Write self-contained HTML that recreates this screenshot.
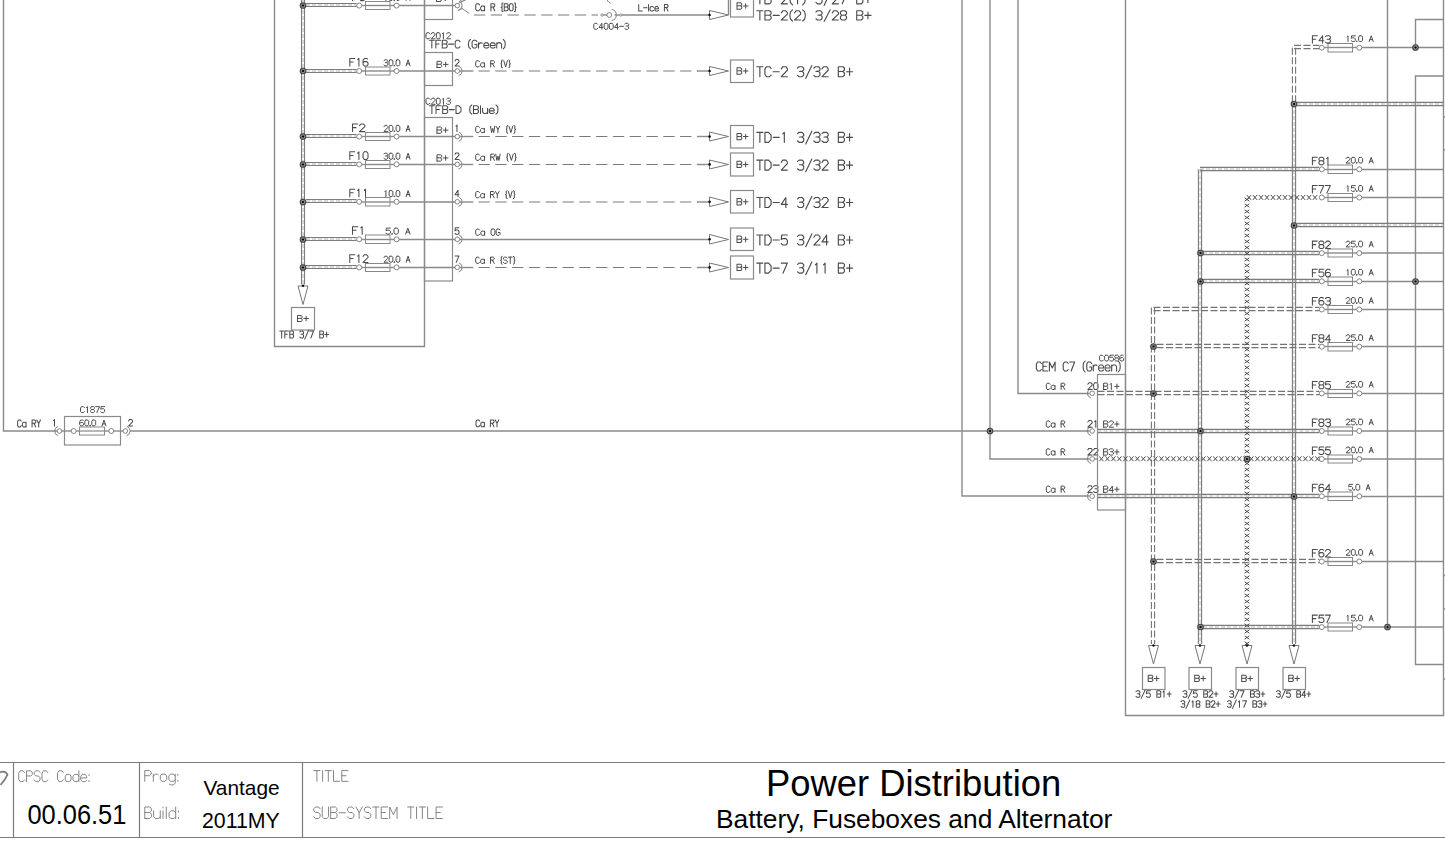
<!DOCTYPE html>
<html><head><meta charset="utf-8"><title>Power Distribution</title>
<style>html,body{margin:0;padding:0;background:#fff;overflow:hidden}svg{display:block}</style>
</head><body>
<svg width="1445" height="855" viewBox="0 0 1445 855" style="font-family:'Liberation Sans',sans-serif">
<rect width="1445" height="855" fill="#fff"/>
<polyline points="3.50,-2.00 3.50,431.00 57.00,431.00" stroke="#8a8a8a" stroke-width="1.4" fill="none"/>
<path d="M21.22 421.15L20.31 420.00L18.50 420.00L17.60 421.53L17.60 425.37L18.50 426.90L20.31 426.90L21.22 425.75M26.04 422.30L26.04 426.90M26.04 423.45L25.13 422.30L23.33 422.30L22.42 423.45L22.42 425.75L23.33 426.90L25.13 426.90L26.04 425.75M32.06 426.90L32.06 420.00L34.78 420.00L35.68 420.92L35.68 422.30L34.78 423.30L32.06 423.30M33.87 423.30L35.68 426.90M36.88 420.00L38.69 423.45L40.50 420.00M38.69 423.45L38.69 426.90" stroke="#4a4a4a" stroke-width="1.03" fill="none" stroke-linecap="round" stroke-linejoin="round"/>
<path d="M53.50 420.58L54.50 419.50L54.50 426.00" stroke="#4a4a4a" stroke-width="1.01" fill="none" stroke-linecap="round" stroke-linejoin="round"/>
<circle cx="59.50" cy="431.00" r="2.3" stroke="#777" stroke-width="0.9" fill="#fff"/>
<path d="M58.26 435.64A4.8 4.8 0 0 1 57.86 426.49" stroke="#777" stroke-width="0.9" fill="none"/>
<rect x="64.50" y="416.50" width="56.00" height="28.50" stroke="#8a8a8a" stroke-width="1.2" fill="none"/>
<line x1="61.80" y1="431.00" x2="71.20" y2="431.00" stroke="#8a8a8a" stroke-width="1.4" />
<circle cx="73.70" cy="431.00" r="2.5" stroke="#777" stroke-width="0.9" fill="#fff"/>
<line x1="76.20" y1="431.00" x2="79.70" y2="431.00" stroke="#8a8a8a" stroke-width="1.4" />
<rect x="79.50" y="427.00" width="25.00" height="8.00" stroke="#888" stroke-width="1.0" fill="none"/>
<line x1="79.70" y1="431.00" x2="104.60" y2="431.00" stroke="#999" stroke-width="1.4" />
<line x1="104.60" y1="431.00" x2="108.80" y2="431.00" stroke="#8a8a8a" stroke-width="1.4" />
<circle cx="111.30" cy="431.00" r="2.5" stroke="#777" stroke-width="0.9" fill="#fff"/>
<line x1="113.80" y1="431.00" x2="123.00" y2="431.00" stroke="#8a8a8a" stroke-width="1.4" />
<circle cx="125.30" cy="431.00" r="2.3" stroke="#777" stroke-width="0.9" fill="#fff"/>
<path d="M126.94 426.49A4.8 4.8 0 0 1 126.54 435.64" stroke="#777" stroke-width="0.9" fill="none"/>
<path d="M84.31 407.60L83.35 406.60L81.45 406.60L80.50 407.93L80.50 411.27L81.45 412.60L83.35 412.60L84.31 411.60M86.52 407.60L87.48 406.60L87.48 412.60M91.60 406.60L93.50 406.60L94.45 407.40L94.45 408.60L93.50 409.47L91.60 409.47L90.65 408.60L90.65 407.40L91.60 406.60M91.60 409.47L90.65 410.40L90.65 411.73L91.60 412.60L93.50 412.60L94.45 411.73L94.45 410.40L93.50 409.47M95.72 406.60L99.53 406.60L96.86 412.60M104.60 406.60L101.11 406.60L100.79 409.27L101.75 408.73L103.65 408.73L104.60 409.80L104.60 411.60L103.65 412.60L101.75 412.60L100.79 411.80" stroke="#4a4a4a" stroke-width="0.99" fill="none" stroke-linecap="round" stroke-linejoin="round"/>
<path d="M83.28 420.52L82.45 420.00L80.85 420.00L79.70 421.42L79.70 424.51L80.66 425.80L82.58 425.80L83.53 424.83L83.53 423.48L82.58 422.45L80.66 422.45L79.70 423.48M85.77 420.00L87.69 420.00L88.65 421.29L88.65 424.51L87.69 425.80L85.77 425.80L84.81 424.51L84.81 421.29L85.77 420.00M89.92 425.80L90.50 425.80L90.50 425.28L89.92 425.28L89.92 425.80M92.80 420.00L94.72 420.00L95.68 421.29L95.68 424.51L94.72 425.80L92.80 425.80L91.84 424.51L91.84 421.29L92.80 420.00M102.07 425.80L103.98 420.00L105.90 425.80M102.70 423.87L105.26 423.87" stroke="#4a4a4a" stroke-width="0.98" fill="none" stroke-linecap="round" stroke-linejoin="round"/>
<path d="M128.50 420.94L129.50 419.50L131.50 419.50L132.50 420.73L132.50 421.81L128.50 426.00L132.50 426.00" stroke="#4a4a4a" stroke-width="1.01" fill="none" stroke-linecap="round" stroke-linejoin="round"/>
<line x1="130.00" y1="431.00" x2="1089.50" y2="431.00" stroke="#8a8a8a" stroke-width="1.4" />
<path d="M479.60 421.05L478.70 419.90L476.90 419.90L476.00 421.43L476.00 425.27L476.90 426.80L478.70 426.80L479.60 425.65M484.40 422.20L484.40 426.80M484.40 423.35L483.50 422.20L481.70 422.20L480.80 423.35L480.80 425.65L481.70 426.80L483.50 426.80L484.40 425.65M490.40 426.80L490.40 419.90L493.10 419.90L494.00 420.82L494.00 422.20L493.10 423.20L490.40 423.20M492.20 423.20L494.00 426.80M495.20 419.90L497.00 423.35L498.80 419.90M497.00 423.35L497.00 426.80" stroke="#4a4a4a" stroke-width="1.03" fill="none" stroke-linecap="round" stroke-linejoin="round"/>
<polyline points="274.50,-2.00 274.50,346.50 424.50,346.50 424.50,-2.00" stroke="#8a8a8a" stroke-width="1.4" fill="none"/>
<path d="M301.50 -2.00V284.50M304.50 -2.00V284.50" stroke="#7c7c7c" stroke-width="1.1" fill="none"/>
<path d="M303.00 -2.00V284.50" stroke="#b4b4b4" stroke-width="1" stroke-dasharray="4 2" fill="none"/>
<path d="M306.00 3.50H356.60M306.00 6.50H356.60" stroke="#7c7c7c" stroke-width="1.1" fill="none"/>
<path d="M306.00 5.00H356.60" stroke="#b4b4b4" stroke-width="1" stroke-dasharray="4 2" fill="none"/>
<circle cx="303.00" cy="5.50" r="2.8" stroke="#444" stroke-width="1.1" fill="#888"/>
<circle cx="303.00" cy="5.50" r="1.1" stroke="#000" stroke-width="0" fill="#000"/>
<circle cx="359.20" cy="5.60" r="2.5" stroke="#777" stroke-width="0.9" fill="#fff"/>
<line x1="361.70" y1="5.50" x2="365.50" y2="5.50" stroke="#8a8a8a" stroke-width="1.4" />
<rect x="365.50" y="1.50" width="24.50" height="8.00" stroke="#888" stroke-width="1.0" fill="none"/>
<line x1="365.50" y1="5.50" x2="389.80" y2="5.50" stroke="#8a8a8a" stroke-width="1.4" />
<line x1="389.80" y1="5.50" x2="394.10" y2="5.50" stroke="#8a8a8a" stroke-width="1.4" />
<circle cx="396.60" cy="5.60" r="2.5" stroke="#777" stroke-width="0.9" fill="#fff"/>
<line x1="399.10" y1="5.50" x2="455.00" y2="5.50" stroke="#8a8a8a" stroke-width="1.4" />
<path d="M357.77 -7.00L352.50 -7.00L352.50 0.60M352.50 -3.37L356.01 -3.37M364.45 -6.32L363.31 -7.00L361.11 -7.00L359.53 -5.14L359.53 -1.09L360.85 0.60L363.48 0.60L364.80 -0.67L364.80 -2.44L363.48 -3.79L360.85 -3.79L359.53 -2.44" stroke="#4a4a4a" stroke-width="1.05" fill="none" stroke-linecap="round" stroke-linejoin="round"/>
<path d="M384.95 -4.60L385.90 -5.60L385.90 0.40M392.88 -5.60L389.39 -5.60L389.07 -2.93L390.02 -3.47L391.93 -3.47L392.88 -2.40L392.88 -0.60L391.93 0.40L390.02 0.40L389.07 -0.40M394.15 0.40L394.72 0.40L394.72 -0.13L394.15 -0.13L394.15 0.40M397.00 -5.60L398.90 -5.60L399.85 -4.27L399.85 -0.93L398.90 0.40L397.00 0.40L396.05 -0.93L396.05 -4.27L397.00 -5.60M406.20 0.40L408.10 -5.60L410.00 0.40M406.83 -1.60L409.37 -1.60" stroke="#4a4a4a" stroke-width="0.99" fill="none" stroke-linecap="round" stroke-linejoin="round"/>
<path d="M306.00 69.50H356.60M306.00 72.50H356.60" stroke="#7c7c7c" stroke-width="1.1" fill="none"/>
<path d="M306.00 71.00H356.60" stroke="#b4b4b4" stroke-width="1" stroke-dasharray="4 2" fill="none"/>
<circle cx="303.00" cy="71.00" r="2.8" stroke="#444" stroke-width="1.1" fill="#888"/>
<circle cx="303.00" cy="71.00" r="1.1" stroke="#000" stroke-width="0" fill="#000"/>
<circle cx="359.20" cy="71.00" r="2.5" stroke="#777" stroke-width="0.9" fill="#fff"/>
<line x1="361.70" y1="71.00" x2="365.50" y2="71.00" stroke="#8a8a8a" stroke-width="1.4" />
<rect x="365.50" y="67.00" width="24.50" height="8.00" stroke="#888" stroke-width="1.0" fill="none"/>
<line x1="365.50" y1="71.00" x2="389.80" y2="71.00" stroke="#8a8a8a" stroke-width="1.4" />
<line x1="389.80" y1="71.00" x2="394.10" y2="71.00" stroke="#8a8a8a" stroke-width="1.4" />
<circle cx="396.60" cy="71.00" r="2.5" stroke="#777" stroke-width="0.9" fill="#fff"/>
<line x1="399.10" y1="71.00" x2="455.00" y2="71.00" stroke="#8a8a8a" stroke-width="1.4" />
<path d="M354.76 58.40L349.80 58.40L349.80 66.00M349.80 62.03L353.11 62.03M357.66 59.67L358.90 58.40L358.90 66.00M367.67 59.08L366.59 58.40L364.53 58.40L363.04 60.26L363.04 64.31L364.28 66.00L366.76 66.00L368.00 64.73L368.00 62.96L366.76 61.61L364.28 61.61L363.04 62.96" stroke="#4a4a4a" stroke-width="1.05" fill="none" stroke-linecap="round" stroke-linejoin="round"/>
<path d="M384.00 60.60L384.95 59.80L386.85 59.80L387.80 60.73L387.80 61.80L386.85 62.60L385.27 62.60M386.85 62.60L387.80 63.47L387.80 64.87L386.85 65.80L384.95 65.80L384.00 65.00M390.02 59.80L391.93 59.80L392.88 61.13L392.88 64.47L391.93 65.80L390.02 65.80L389.07 64.47L389.07 61.13L390.02 59.80M394.15 65.80L394.72 65.80L394.72 65.27L394.15 65.27L394.15 65.80M397.00 59.80L398.90 59.80L399.85 61.13L399.85 64.47L398.90 65.80L397.00 65.80L396.05 64.47L396.05 61.13L397.00 59.80M406.20 65.80L408.10 59.80L410.00 65.80M406.83 63.80L409.37 63.80" stroke="#4a4a4a" stroke-width="0.99" fill="none" stroke-linecap="round" stroke-linejoin="round"/>
<path d="M306.00 134.50H356.60M306.00 137.50H356.60" stroke="#7c7c7c" stroke-width="1.1" fill="none"/>
<path d="M306.00 136.00H356.60" stroke="#b4b4b4" stroke-width="1" stroke-dasharray="4 2" fill="none"/>
<circle cx="303.00" cy="136.50" r="2.8" stroke="#444" stroke-width="1.1" fill="#888"/>
<circle cx="303.00" cy="136.50" r="1.1" stroke="#000" stroke-width="0" fill="#000"/>
<circle cx="359.20" cy="136.60" r="2.5" stroke="#777" stroke-width="0.9" fill="#fff"/>
<line x1="361.70" y1="136.50" x2="365.50" y2="136.50" stroke="#8a8a8a" stroke-width="1.4" />
<rect x="365.50" y="132.50" width="24.50" height="8.00" stroke="#888" stroke-width="1.0" fill="none"/>
<line x1="365.50" y1="136.50" x2="389.80" y2="136.50" stroke="#8a8a8a" stroke-width="1.4" />
<line x1="389.80" y1="136.50" x2="394.10" y2="136.50" stroke="#8a8a8a" stroke-width="1.4" />
<circle cx="396.60" cy="136.60" r="2.5" stroke="#777" stroke-width="0.9" fill="#fff"/>
<line x1="399.10" y1="136.50" x2="455.00" y2="136.50" stroke="#8a8a8a" stroke-width="1.4" />
<path d="M357.77 124.00L352.50 124.00L352.50 131.60M352.50 127.63L356.01 127.63M359.53 125.69L360.85 124.00L363.48 124.00L364.80 125.44L364.80 126.70L359.53 131.60L364.80 131.60" stroke="#4a4a4a" stroke-width="1.05" fill="none" stroke-linecap="round" stroke-linejoin="round"/>
<path d="M384.00 126.73L384.95 125.40L386.85 125.40L387.80 126.53L387.80 127.53L384.00 131.40L387.80 131.40M390.02 125.40L391.93 125.40L392.88 126.73L392.88 130.07L391.93 131.40L390.02 131.40L389.07 130.07L389.07 126.73L390.02 125.40M394.15 131.40L394.72 131.40L394.72 130.87L394.15 130.87L394.15 131.40M397.00 125.40L398.90 125.40L399.85 126.73L399.85 130.07L398.90 131.40L397.00 131.40L396.05 130.07L396.05 126.73L397.00 125.40M406.20 131.40L408.10 125.40L410.00 131.40M406.83 129.40L409.37 129.40" stroke="#4a4a4a" stroke-width="0.99" fill="none" stroke-linecap="round" stroke-linejoin="round"/>
<path d="M306.00 162.50H356.60M306.00 165.50H356.60" stroke="#7c7c7c" stroke-width="1.1" fill="none"/>
<path d="M306.00 164.00H356.60" stroke="#b4b4b4" stroke-width="1" stroke-dasharray="4 2" fill="none"/>
<circle cx="303.00" cy="164.50" r="2.8" stroke="#444" stroke-width="1.1" fill="#888"/>
<circle cx="303.00" cy="164.50" r="1.1" stroke="#000" stroke-width="0" fill="#000"/>
<circle cx="359.20" cy="164.40" r="2.5" stroke="#777" stroke-width="0.9" fill="#fff"/>
<line x1="361.70" y1="164.50" x2="365.50" y2="164.50" stroke="#8a8a8a" stroke-width="1.4" />
<rect x="365.50" y="160.50" width="24.50" height="8.00" stroke="#888" stroke-width="1.0" fill="none"/>
<line x1="365.50" y1="164.50" x2="389.80" y2="164.50" stroke="#8a8a8a" stroke-width="1.4" />
<line x1="389.80" y1="164.50" x2="394.10" y2="164.50" stroke="#8a8a8a" stroke-width="1.4" />
<circle cx="396.60" cy="164.40" r="2.5" stroke="#777" stroke-width="0.9" fill="#fff"/>
<line x1="399.10" y1="164.50" x2="455.00" y2="164.50" stroke="#8a8a8a" stroke-width="1.4" />
<path d="M354.76 151.80L349.80 151.80L349.80 159.40M349.80 155.43L353.11 155.43M357.66 153.07L358.90 151.80L358.90 159.40M364.28 151.80L366.76 151.80L368.00 153.49L368.00 157.71L366.76 159.40L364.28 159.40L363.04 157.71L363.04 153.49L364.28 151.80" stroke="#4a4a4a" stroke-width="1.05" fill="none" stroke-linecap="round" stroke-linejoin="round"/>
<path d="M384.00 154.00L384.95 153.20L386.85 153.20L387.80 154.13L387.80 155.20L386.85 156.00L385.27 156.00M386.85 156.00L387.80 156.87L387.80 158.27L386.85 159.20L384.95 159.20L384.00 158.40M390.02 153.20L391.93 153.20L392.88 154.53L392.88 157.87L391.93 159.20L390.02 159.20L389.07 157.87L389.07 154.53L390.02 153.20M394.15 159.20L394.72 159.20L394.72 158.67L394.15 158.67L394.15 159.20M397.00 153.20L398.90 153.20L399.85 154.53L399.85 157.87L398.90 159.20L397.00 159.20L396.05 157.87L396.05 154.53L397.00 153.20M406.20 159.20L408.10 153.20L410.00 159.20M406.83 157.20L409.37 157.20" stroke="#4a4a4a" stroke-width="0.99" fill="none" stroke-linecap="round" stroke-linejoin="round"/>
<path d="M306.00 199.50H356.60M306.00 202.50H356.60" stroke="#7c7c7c" stroke-width="1.1" fill="none"/>
<path d="M306.00 201.00H356.60" stroke="#b4b4b4" stroke-width="1" stroke-dasharray="4 2" fill="none"/>
<circle cx="303.00" cy="202.00" r="2.8" stroke="#444" stroke-width="1.1" fill="#888"/>
<circle cx="303.00" cy="202.00" r="1.1" stroke="#000" stroke-width="0" fill="#000"/>
<circle cx="359.20" cy="201.80" r="2.5" stroke="#777" stroke-width="0.9" fill="#fff"/>
<line x1="361.70" y1="202.00" x2="365.50" y2="202.00" stroke="#8a8a8a" stroke-width="1.4" />
<rect x="365.50" y="197.50" width="24.50" height="8.50" stroke="#888" stroke-width="1.0" fill="none"/>
<line x1="365.50" y1="202.00" x2="389.80" y2="202.00" stroke="#8a8a8a" stroke-width="1.4" />
<line x1="389.80" y1="202.00" x2="394.10" y2="202.00" stroke="#8a8a8a" stroke-width="1.4" />
<circle cx="396.60" cy="201.80" r="2.5" stroke="#777" stroke-width="0.9" fill="#fff"/>
<line x1="399.10" y1="202.00" x2="455.00" y2="202.00" stroke="#8a8a8a" stroke-width="1.4" />
<path d="M354.76 189.20L349.80 189.20L349.80 196.80M349.80 192.83L353.11 192.83M357.66 190.47L358.90 189.20L358.90 196.80M364.28 190.47L365.52 189.20L365.52 196.80" stroke="#4a4a4a" stroke-width="1.05" fill="none" stroke-linecap="round" stroke-linejoin="round"/>
<path d="M384.95 191.60L385.90 190.60L385.90 196.60M390.02 190.60L391.93 190.60L392.88 191.93L392.88 195.27L391.93 196.60L390.02 196.60L389.07 195.27L389.07 191.93L390.02 190.60M394.15 196.60L394.72 196.60L394.72 196.07L394.15 196.07L394.15 196.60M397.00 190.60L398.90 190.60L399.85 191.93L399.85 195.27L398.90 196.60L397.00 196.60L396.05 195.27L396.05 191.93L397.00 190.60M406.20 196.60L408.10 190.60L410.00 196.60M406.83 194.60L409.37 194.60" stroke="#4a4a4a" stroke-width="0.99" fill="none" stroke-linecap="round" stroke-linejoin="round"/>
<path d="M306.00 237.50H356.60M306.00 240.50H356.60" stroke="#7c7c7c" stroke-width="1.1" fill="none"/>
<path d="M306.00 239.00H356.60" stroke="#b4b4b4" stroke-width="1" stroke-dasharray="4 2" fill="none"/>
<circle cx="303.00" cy="239.50" r="2.8" stroke="#444" stroke-width="1.1" fill="#888"/>
<circle cx="303.00" cy="239.50" r="1.1" stroke="#000" stroke-width="0" fill="#000"/>
<circle cx="359.20" cy="239.30" r="2.5" stroke="#777" stroke-width="0.9" fill="#fff"/>
<line x1="361.70" y1="239.50" x2="365.50" y2="239.50" stroke="#8a8a8a" stroke-width="1.4" />
<rect x="365.50" y="235.00" width="24.50" height="8.50" stroke="#888" stroke-width="1.0" fill="none"/>
<line x1="365.50" y1="239.50" x2="389.80" y2="239.50" stroke="#8a8a8a" stroke-width="1.4" />
<line x1="389.80" y1="239.50" x2="394.10" y2="239.50" stroke="#8a8a8a" stroke-width="1.4" />
<circle cx="396.60" cy="239.30" r="2.5" stroke="#777" stroke-width="0.9" fill="#fff"/>
<line x1="399.10" y1="239.50" x2="455.00" y2="239.50" stroke="#8a8a8a" stroke-width="1.4" />
<path d="M357.77 226.70L352.50 226.70L352.50 234.30M352.50 230.33L356.01 230.33M360.85 227.97L362.16 226.70L362.16 234.30" stroke="#4a4a4a" stroke-width="1.05" fill="none" stroke-linecap="round" stroke-linejoin="round"/>
<path d="M390.36 228.10L386.36 228.10L386.00 230.77L387.09 230.23L389.27 230.23L390.36 231.30L390.36 233.10L389.27 234.10L387.09 234.10L386.00 233.30M391.82 234.10L392.47 234.10L392.47 233.57L391.82 233.57L391.82 234.10M395.09 228.10L397.27 228.10L398.36 229.43L398.36 232.77L397.27 234.10L395.09 234.10L394.00 232.77L394.00 229.43L395.09 228.10M405.64 234.10L407.82 228.10L410.00 234.10M406.36 232.10L409.27 232.10" stroke="#4a4a4a" stroke-width="0.99" fill="none" stroke-linecap="round" stroke-linejoin="round"/>
<path d="M306.00 265.50H356.60M306.00 268.50H356.60" stroke="#7c7c7c" stroke-width="1.1" fill="none"/>
<path d="M306.00 267.00H356.60" stroke="#b4b4b4" stroke-width="1" stroke-dasharray="4 2" fill="none"/>
<circle cx="303.00" cy="267.50" r="2.8" stroke="#444" stroke-width="1.1" fill="#888"/>
<circle cx="303.00" cy="267.50" r="1.1" stroke="#000" stroke-width="0" fill="#000"/>
<circle cx="359.20" cy="267.40" r="2.5" stroke="#777" stroke-width="0.9" fill="#fff"/>
<line x1="361.70" y1="267.50" x2="365.50" y2="267.50" stroke="#8a8a8a" stroke-width="1.4" />
<rect x="365.50" y="263.50" width="24.50" height="8.00" stroke="#888" stroke-width="1.0" fill="none"/>
<line x1="365.50" y1="267.50" x2="389.80" y2="267.50" stroke="#8a8a8a" stroke-width="1.4" />
<line x1="389.80" y1="267.50" x2="394.10" y2="267.50" stroke="#8a8a8a" stroke-width="1.4" />
<circle cx="396.60" cy="267.40" r="2.5" stroke="#777" stroke-width="0.9" fill="#fff"/>
<line x1="399.10" y1="267.50" x2="455.00" y2="267.50" stroke="#8a8a8a" stroke-width="1.4" />
<path d="M354.76 254.80L349.80 254.80L349.80 262.40M349.80 258.43L353.11 258.43M357.66 256.07L358.90 254.80L358.90 262.40M363.04 256.49L364.28 254.80L366.76 254.80L368.00 256.24L368.00 257.50L363.04 262.40L368.00 262.40" stroke="#4a4a4a" stroke-width="1.05" fill="none" stroke-linecap="round" stroke-linejoin="round"/>
<path d="M384.00 257.53L384.95 256.20L386.85 256.20L387.80 257.33L387.80 258.33L384.00 262.20L387.80 262.20M390.02 256.20L391.93 256.20L392.88 257.53L392.88 260.87L391.93 262.20L390.02 262.20L389.07 260.87L389.07 257.53L390.02 256.20M394.15 262.20L394.72 262.20L394.72 261.67L394.15 261.67L394.15 262.20M397.00 256.20L398.90 256.20L399.85 257.53L399.85 260.87L398.90 262.20L397.00 262.20L396.05 260.87L396.05 257.53L397.00 256.20M406.20 262.20L408.10 256.20L410.00 262.20M406.83 260.20L409.37 260.20" stroke="#4a4a4a" stroke-width="0.99" fill="none" stroke-linecap="round" stroke-linejoin="round"/>
<polyline points="298.00,286.00 303.00,304.50 308.00,286.00 298.00,286.00" stroke="#777" stroke-width="1.0" fill="#fff"/>
<circle cx="303.00" cy="285.80" r="1.2" stroke="#000" stroke-width="0" fill="#111"/>
<rect x="291.50" y="307.50" width="23.00" height="22.50" stroke="#8a8a8a" stroke-width="1.2" fill="none"/>
<path d="M297.50 321.50L297.50 315.50L301.04 315.50L302.21 316.30L302.21 317.50L301.04 318.37L297.50 318.37M301.04 318.37L302.21 319.30L302.21 320.63L301.04 321.50L297.50 321.50M306.14 320.70L306.14 316.30M303.79 318.50L308.50 318.50" stroke="#4a4a4a" stroke-width="0.99" fill="none" stroke-linecap="round" stroke-linejoin="round"/>
<path d="M279.80 331.00L283.55 331.00M281.67 331.00L281.67 338.00M288.54 331.00L284.79 331.00L284.79 338.00M284.79 334.34L287.29 334.34M289.79 338.00L289.79 331.00L292.60 331.00L293.54 331.93L293.54 333.33L292.60 334.34L289.79 334.34M292.60 334.34L293.54 335.43L293.54 336.99L292.60 338.00L289.79 338.00M299.78 331.93L300.72 331.00L302.59 331.00L303.53 332.09L303.53 333.33L302.59 334.27L301.03 334.27M302.59 334.27L303.53 335.28L303.53 336.91L302.59 338.00L300.72 338.00L299.78 337.07M304.77 339.17L308.52 330.22M309.77 331.00L313.52 331.00L310.89 338.00M319.76 338.00L319.76 331.00L322.57 331.00L323.51 331.93L323.51 333.33L322.57 334.34L319.76 334.34M322.57 334.34L323.51 335.43L323.51 336.99L322.57 338.00L319.76 338.00M326.63 337.07L326.63 331.93M324.75 334.50L328.50 334.50" stroke="#4a4a4a" stroke-width="1.03" fill="none" stroke-linecap="round" stroke-linejoin="round"/>
<rect x="424.50" y="-6.00" width="28.00" height="25.50" stroke="#8a8a8a" stroke-width="1.2" fill="none"/>
<path d="M436.50 1.50L436.50 -5.00L440.04 -5.00L441.21 -4.13L441.21 -2.83L440.04 -1.89L436.50 -1.89M440.04 -1.89L441.21 -0.88L441.21 0.56L440.04 1.50L436.50 1.50M445.14 0.63L445.14 -4.13M442.79 -1.75L447.50 -1.75" stroke="#4a4a4a" stroke-width="1.01" fill="none" stroke-linecap="round" stroke-linejoin="round"/>
<rect x="424.50" y="52.50" width="28.00" height="33.00" stroke="#8a8a8a" stroke-width="1.2" fill="none"/>
<path d="M437.00 67.50L437.00 61.30L440.54 61.30L441.71 62.13L441.71 63.37L440.54 64.26L437.00 64.26M440.54 64.26L441.71 65.23L441.71 66.60L440.54 67.50L437.00 67.50M445.64 66.67L445.64 62.13M443.29 64.40L448.00 64.40" stroke="#4a4a4a" stroke-width="1.00" fill="none" stroke-linecap="round" stroke-linejoin="round"/>
<rect x="424.50" y="117.50" width="28.00" height="163.50" stroke="#8a8a8a" stroke-width="1.2" fill="none"/>
<path d="M437.00 133.30L437.00 127.00L440.54 127.00L441.71 127.84L441.71 129.10L440.54 130.01L437.00 130.01M440.54 130.01L441.71 130.99L441.71 132.39L440.54 133.30L437.00 133.30M445.64 132.46L445.64 127.84M443.29 130.15L448.00 130.15" stroke="#4a4a4a" stroke-width="1.00" fill="none" stroke-linecap="round" stroke-linejoin="round"/>
<path d="M437.00 161.10L437.00 154.80L440.54 154.80L441.71 155.64L441.71 156.90L440.54 157.81L437.00 157.81M440.54 157.81L441.71 158.79L441.71 160.19L440.54 161.10L437.00 161.10M445.64 160.26L445.64 155.64M443.29 157.95L448.00 157.95" stroke="#4a4a4a" stroke-width="1.00" fill="none" stroke-linecap="round" stroke-linejoin="round"/>
<path d="M429.87 33.72L428.90 32.70L426.97 32.70L426.00 34.06L426.00 37.44L426.97 38.80L428.90 38.80L429.87 37.78M431.16 34.06L432.12 32.70L434.06 32.70L435.03 33.85L435.03 34.87L431.16 38.80L435.03 38.80M437.28 32.70L439.22 32.70L440.18 34.06L440.18 37.44L439.22 38.80L437.28 38.80L436.32 37.44L436.32 34.06L437.28 32.70M442.44 33.72L443.41 32.70L443.41 38.80M446.63 34.06L447.60 32.70L449.53 32.70L450.50 33.85L450.50 34.87L446.63 38.80L450.50 38.80" stroke="#4a4a4a" stroke-width="0.99" fill="none" stroke-linecap="round" stroke-linejoin="round"/>
<path d="M429.40 40.30L434.23 40.30M431.82 40.30L431.82 48.00M440.68 40.30L435.84 40.30L435.84 48.00M435.84 43.98L439.07 43.98M442.29 48.00L442.29 40.30L445.91 40.30L447.12 41.33L447.12 42.87L445.91 43.98L442.29 43.98M445.91 43.98L447.12 45.18L447.12 46.89L445.91 48.00L442.29 48.00M448.73 44.15L453.56 44.15M460.01 41.58L458.80 40.30L456.38 40.30L455.18 42.01L455.18 46.29L456.38 48.00L458.80 48.00L460.01 46.72M470.48 39.44L468.87 41.16L468.39 44.15L468.87 47.14L470.48 48.86M476.92 41.58L475.72 40.30L473.30 40.30L472.09 42.01L472.09 46.29L473.30 48.00L475.72 48.00L476.92 46.72L476.92 44.58L474.91 44.58M478.54 42.87L478.54 48.00M478.54 44.58L479.99 42.87L481.60 42.87L482.24 43.29M483.85 45.43L488.68 45.43L488.68 44.15L487.48 42.87L485.06 42.87L483.85 44.15L483.85 46.72L485.06 48.00L487.48 48.00L488.68 47.14M490.30 45.43L495.13 45.43L495.13 44.15L493.92 42.87L491.50 42.87L490.30 44.15L490.30 46.72L491.50 48.00L493.92 48.00L495.13 47.14M496.74 42.87L496.74 48.00M496.74 44.15L497.95 42.87L500.36 42.87L501.57 44.15L501.57 48.00M503.18 39.44L504.79 41.16L505.28 44.15L504.79 47.14L503.18 48.86" stroke="#4a4a4a" stroke-width="1.06" fill="none" stroke-linecap="round" stroke-linejoin="round"/>
<path d="M429.87 99.22L428.90 98.20L426.97 98.20L426.00 99.56L426.00 102.94L426.97 104.30L428.90 104.30L429.87 103.28M431.16 99.56L432.12 98.20L434.06 98.20L435.03 99.35L435.03 100.37L431.16 104.30L435.03 104.30M437.28 98.20L439.22 98.20L440.18 99.56L440.18 102.94L439.22 104.30L437.28 104.30L436.32 102.94L436.32 99.56L437.28 98.20M442.44 99.22L443.41 98.20L443.41 104.30M446.63 99.01L447.60 98.20L449.53 98.20L450.50 99.15L450.50 100.23L449.53 101.05L447.92 101.05M449.53 101.05L450.50 101.93L450.50 103.35L449.53 104.30L447.60 104.30L446.63 103.49" stroke="#4a4a4a" stroke-width="0.99" fill="none" stroke-linecap="round" stroke-linejoin="round"/>
<path d="M429.40 105.80L434.39 105.80M431.89 105.80L431.89 113.40M441.04 105.80L436.05 105.80L436.05 113.40M436.05 109.43L439.38 109.43M442.70 113.40L442.70 105.80L446.44 105.80L447.69 106.81L447.69 108.33L446.44 109.43L442.70 109.43M446.44 109.43L447.69 110.61L447.69 112.30L446.44 113.40L442.70 113.40M449.35 109.60L454.34 109.60M456.00 113.40L456.00 105.80L458.91 105.80L460.99 107.91L460.99 111.29L458.91 113.40L456.00 113.40M471.80 104.96L470.13 106.64L469.64 109.60L470.13 112.56L471.80 114.24M473.46 113.40L473.46 105.80L477.20 105.80L478.45 106.81L478.45 108.33L477.20 109.43L473.46 109.43M477.20 109.43L478.45 110.61L478.45 112.30L477.20 113.40L473.46 113.40M480.53 105.80L480.53 113.40M482.60 108.33L482.60 112.13L483.85 113.40L486.35 113.40L487.59 112.13M487.59 108.33L487.59 113.40M489.26 110.87L494.24 110.87L494.24 109.60L493.00 108.33L490.50 108.33L489.26 109.60L489.26 112.13L490.50 113.40L493.00 113.40L494.24 112.56M495.91 104.96L497.57 106.64L498.07 109.60L497.57 112.56L495.91 114.24" stroke="#4a4a4a" stroke-width="1.05" fill="none" stroke-linecap="round" stroke-linejoin="round"/>
<circle cx="457.30" cy="5.60" r="2.3" stroke="#777" stroke-width="0.9" fill="#fff"/>
<path d="M458.94 1.09A4.8 4.8 0 0 1 458.54 10.24" stroke="#777" stroke-width="0.9" fill="none"/>
<path d="M479.51 4.88L478.55 3.70L476.65 3.70L475.70 5.28L475.70 9.22L476.65 10.80L478.55 10.80L479.51 9.62M484.58 6.07L484.58 10.80M484.58 7.25L483.63 6.07L481.73 6.07L480.77 7.25L480.77 9.62L481.73 10.80L483.63 10.80L484.58 9.62M490.92 10.80L490.92 3.70L493.78 3.70L494.73 4.65L494.73 6.07L493.78 7.09L490.92 7.09M492.83 7.09L494.73 10.80M502.98 2.91L502.03 3.31L502.03 6.86L501.07 7.25L502.03 7.64L502.03 11.19L502.98 11.59M504.25 10.80L504.25 3.70L507.10 3.70L508.05 4.65L508.05 6.07L507.10 7.09L504.25 7.09M507.10 7.09L508.05 8.20L508.05 9.77L507.10 10.80L504.25 10.80M510.27 3.70L512.18 3.70L513.13 5.28L513.13 9.22L512.18 10.80L510.27 10.80L509.32 9.22L509.32 5.28L510.27 3.70M514.40 2.91L515.35 3.31L515.35 6.86L516.30 7.25L515.35 7.64L515.35 11.19L514.40 11.59" stroke="#4a4a4a" stroke-width="1.03" fill="none" stroke-linecap="round" stroke-linejoin="round"/>
<circle cx="457.30" cy="71.00" r="2.3" stroke="#777" stroke-width="0.9" fill="#fff"/>
<path d="M458.94 66.49A4.8 4.8 0 0 1 458.54 75.64" stroke="#777" stroke-width="0.9" fill="none"/>
<path d="M455.00 60.94L456.00 59.50L458.00 59.50L459.00 60.73L459.00 61.81L455.00 66.00L459.00 66.00" stroke="#4a4a4a" stroke-width="1.01" fill="none" stroke-linecap="round" stroke-linejoin="round"/>
<path d="M479.44 61.75L478.50 60.70L476.63 60.70L475.70 62.10L475.70 65.60L476.63 67.00L478.50 67.00L479.44 65.95M484.42 62.80L484.42 67.00M484.42 63.85L483.49 62.80L481.62 62.80L480.69 63.85L480.69 65.95L481.62 67.00L483.49 67.00L484.42 65.95M490.66 67.00L490.66 60.70L493.46 60.70L494.40 61.54L494.40 62.80L493.46 63.71L490.66 63.71M492.53 63.71L494.40 67.00M502.50 60.00L501.56 60.35L501.56 63.50L500.63 63.85L501.56 64.20L501.56 67.35L502.50 67.70M503.74 60.70L505.61 67.00L507.48 60.70M508.73 60.00L509.67 60.35L509.67 63.50L510.60 63.85L509.67 64.20L509.67 67.35L508.73 67.70" stroke="#4a4a4a" stroke-width="1.00" fill="none" stroke-linecap="round" stroke-linejoin="round"/>
<circle cx="457.30" cy="136.60" r="2.3" stroke="#777" stroke-width="0.9" fill="#fff"/>
<path d="M458.94 132.09A4.8 4.8 0 0 1 458.54 141.24" stroke="#777" stroke-width="0.9" fill="none"/>
<path d="M456.00 126.18L457.00 125.10L457.00 131.60" stroke="#4a4a4a" stroke-width="1.01" fill="none" stroke-linecap="round" stroke-linejoin="round"/>
<path d="M479.40 127.35L478.48 126.30L476.63 126.30L475.70 127.70L475.70 131.20L476.63 132.60L478.48 132.60L479.40 131.55M484.34 128.40L484.34 132.60M484.34 129.45L483.41 128.40L481.56 128.40L480.64 129.45L480.64 131.55L481.56 132.60L483.41 132.60L484.34 131.55M490.51 126.30L491.62 132.60L492.67 128.40L493.71 132.60L494.82 126.30M496.06 126.30L497.91 129.45L499.76 126.30M497.91 129.45L497.91 132.60M507.78 125.60L506.85 125.95L506.85 129.10L505.93 129.45L506.85 129.80L506.85 132.95L507.78 133.30M509.01 126.30L510.86 132.60L512.72 126.30M513.95 125.60L514.87 125.95L514.87 129.10L515.80 129.45L514.87 129.80L514.87 132.95L513.95 133.30" stroke="#4a4a4a" stroke-width="1.00" fill="none" stroke-linecap="round" stroke-linejoin="round"/>
<circle cx="457.30" cy="164.40" r="2.3" stroke="#777" stroke-width="0.9" fill="#fff"/>
<path d="M458.94 159.89A4.8 4.8 0 0 1 458.54 169.04" stroke="#777" stroke-width="0.9" fill="none"/>
<path d="M455.00 154.34L456.00 152.90L458.00 152.90L459.00 154.13L459.00 155.21L455.00 159.40L459.00 159.40" stroke="#4a4a4a" stroke-width="1.01" fill="none" stroke-linecap="round" stroke-linejoin="round"/>
<path d="M479.46 155.15L478.52 154.10L476.64 154.10L475.70 155.50L475.70 159.00L476.64 160.40L478.52 160.40L479.46 159.35M484.47 156.20L484.47 160.40M484.47 157.25L483.53 156.20L481.65 156.20L480.71 157.25L480.71 159.35L481.65 160.40L483.53 160.40L484.47 159.35M490.73 160.40L490.73 154.10L493.55 154.10L494.48 154.94L494.48 156.20L493.55 157.11L490.73 157.11M492.61 157.11L494.48 160.40M495.74 154.10L496.86 160.40L497.93 156.20L498.99 160.40L500.12 154.10M508.26 153.40L507.32 153.75L507.32 156.90L506.38 157.25L507.32 157.60L507.32 160.75L508.26 161.10M509.51 154.10L511.39 160.40L513.27 154.10M514.52 153.40L515.46 153.75L515.46 156.90L516.40 157.25L515.46 157.60L515.46 160.75L514.52 161.10" stroke="#4a4a4a" stroke-width="1.00" fill="none" stroke-linecap="round" stroke-linejoin="round"/>
<circle cx="457.30" cy="201.80" r="2.3" stroke="#777" stroke-width="0.9" fill="#fff"/>
<path d="M458.94 197.29A4.8 4.8 0 0 1 458.54 206.44" stroke="#777" stroke-width="0.9" fill="none"/>
<path d="M458.00 196.80L458.00 190.30L455.00 194.78L459.00 194.78" stroke="#4a4a4a" stroke-width="1.01" fill="none" stroke-linecap="round" stroke-linejoin="round"/>
<path d="M479.40 192.55L478.48 191.50L476.63 191.50L475.70 192.90L475.70 196.40L476.63 197.80L478.48 197.80L479.40 196.75M484.34 193.60L484.34 197.80M484.34 194.65L483.41 193.60L481.56 193.60L480.64 194.65L480.64 196.75L481.56 197.80L483.41 197.80L484.34 196.75M490.51 197.80L490.51 191.50L493.29 191.50L494.22 192.34L494.22 193.60L493.29 194.51L490.51 194.51M492.36 194.51L494.22 197.80M495.45 191.50L497.30 194.65L499.15 191.50M497.30 194.65L497.30 197.80M507.18 190.80L506.25 191.15L506.25 194.30L505.33 194.65L506.25 195.00L506.25 198.15L507.18 198.50M508.41 191.50L510.26 197.80L512.11 191.50M513.35 190.80L514.27 191.15L514.27 194.30L515.20 194.65L514.27 195.00L514.27 198.15L513.35 198.50" stroke="#4a4a4a" stroke-width="1.00" fill="none" stroke-linecap="round" stroke-linejoin="round"/>
<circle cx="457.30" cy="239.30" r="2.3" stroke="#777" stroke-width="0.9" fill="#fff"/>
<path d="M458.94 234.79A4.8 4.8 0 0 1 458.54 243.94" stroke="#777" stroke-width="0.9" fill="none"/>
<path d="M459.00 227.80L455.33 227.80L455.00 230.69L456.00 230.11L458.00 230.11L459.00 231.27L459.00 233.22L458.00 234.30L456.00 234.30L455.00 233.43" stroke="#4a4a4a" stroke-width="1.01" fill="none" stroke-linecap="round" stroke-linejoin="round"/>
<path d="M479.54 230.05L478.58 229.00L476.66 229.00L475.70 230.40L475.70 233.90L476.66 235.30L478.58 235.30L479.54 234.25M484.65 231.10L484.65 235.30M484.65 232.15L483.69 231.10L481.78 231.10L480.82 232.15L480.82 234.25L481.78 235.30L483.69 235.30L484.65 234.25M492.01 229.00L493.93 229.00L494.88 230.40L494.88 233.90L493.93 235.30L492.01 235.30L491.05 233.90L491.05 230.40L492.01 229.00M500.00 230.05L499.04 229.00L497.12 229.00L496.16 230.40L496.16 233.90L497.12 235.30L499.04 235.30L500.00 234.25L500.00 232.50L498.40 232.50" stroke="#4a4a4a" stroke-width="1.00" fill="none" stroke-linecap="round" stroke-linejoin="round"/>
<circle cx="457.30" cy="267.40" r="2.3" stroke="#777" stroke-width="0.9" fill="#fff"/>
<path d="M458.94 262.89A4.8 4.8 0 0 1 458.54 272.04" stroke="#777" stroke-width="0.9" fill="none"/>
<path d="M455.00 255.90L459.00 255.90L456.20 262.40" stroke="#4a4a4a" stroke-width="1.01" fill="none" stroke-linecap="round" stroke-linejoin="round"/>
<path d="M479.40 258.15L478.48 257.10L476.63 257.10L475.70 258.50L475.70 262.00L476.63 263.40L478.48 263.40L479.40 262.35M484.34 259.20L484.34 263.40M484.34 260.25L483.41 259.20L481.56 259.20L480.64 260.25L480.64 262.35L481.56 263.40L483.41 263.40L484.34 262.35M490.51 263.40L490.51 257.10L493.29 257.10L494.22 257.94L494.22 259.20L493.29 260.11L490.51 260.11M492.36 260.11L494.22 263.40M502.24 256.40L501.31 256.75L501.31 259.90L500.39 260.25L501.31 260.60L501.31 263.75L502.24 264.10M507.18 258.08L506.25 257.10L504.40 257.10L503.47 258.08L503.47 259.20L504.40 260.04L506.25 260.18L507.18 261.09L507.18 262.42L506.25 263.40L504.40 263.40L503.47 262.42M508.41 257.10L512.11 257.10M510.26 257.10L510.26 263.40M513.35 256.40L514.27 256.75L514.27 259.90L515.20 260.25L514.27 260.60L514.27 263.75L513.35 264.10" stroke="#4a4a4a" stroke-width="1.00" fill="none" stroke-linecap="round" stroke-linejoin="round"/>
<path d="M458.6 3.2 L468.6 -1.5 M461.2 7.8 L469.2 13.5 M458.0 10.5 L462.5 8.2" stroke="#777" stroke-width="0.9" fill="none"/>
<circle cx="462.00" cy="-1.00" r="2.2" stroke="#777" stroke-width="0.9" fill="#fff"/>
<line x1="474.00" y1="15.00" x2="598.00" y2="15.00" stroke="#7a7a7a" stroke-width="1.1" stroke-dasharray="11.3 5.5"/>
<circle cx="602.10" cy="15.00" r="1.2" stroke="#777" stroke-width="0.8" fill="#fff"/>
<line x1="603.30" y1="15.00" x2="606.90" y2="15.00" stroke="#8a8a8a" stroke-width="1.4" />
<circle cx="609.30" cy="15.00" r="2.4" stroke="#777" stroke-width="0.9" fill="#fff"/>
<path d="M611.8 9.5 A5.6 5.6 0 0 1 611.8 20.5" stroke="#777" stroke-width="0.9" fill="none"/>
<path d="M607 -2.5 A5.6 5.6 0 0 0 610.5 3.2" stroke="#777" stroke-width="0.9" fill="none"/>
<line x1="614.50" y1="15.00" x2="619.60" y2="15.00" stroke="#8a8a8a" stroke-width="1.4" />
<circle cx="620.80" cy="15.00" r="1.2" stroke="#777" stroke-width="0.8" fill="#fff"/>
<line x1="622.00" y1="15.00" x2="709.60" y2="15.00" stroke="#8a8a8a" stroke-width="1.4" />
<path d="M597.68 24.30L596.71 23.30L594.77 23.30L593.80 24.63L593.80 27.97L594.77 29.30L596.71 29.30L597.68 28.30M601.88 29.30L601.88 23.30L598.97 27.43L602.85 27.43M605.11 23.30L607.05 23.30L608.02 24.63L608.02 27.97L607.05 29.30L605.11 29.30L604.14 27.97L604.14 24.63L605.11 23.30M610.28 23.30L612.22 23.30L613.19 24.63L613.19 27.97L612.22 29.30L610.28 29.30L609.31 27.97L609.31 24.63L610.28 23.30M617.39 29.30L617.39 23.30L614.48 27.43L618.36 27.43M619.65 26.30L623.53 26.30M624.82 24.10L625.79 23.30L627.73 23.30L628.70 24.23L628.70 25.30L627.73 26.10L626.11 26.10M627.73 26.10L628.70 26.97L628.70 28.37L627.73 29.30L625.79 29.30L624.82 28.50" stroke="#4a4a4a" stroke-width="0.99" fill="none" stroke-linecap="round" stroke-linejoin="round"/>
<path d="M638.70 4.40L638.70 11.00L642.29 11.00M643.48 7.70L647.07 7.70M648.57 11.00L648.57 4.40M653.65 7.33L652.75 6.60L650.96 6.60L650.06 7.70L650.06 9.90L650.96 11.00L652.75 11.00L653.65 10.27M654.84 8.80L658.43 8.80L658.43 7.70L657.54 6.60L655.74 6.60L654.84 7.70L654.84 9.90L655.74 11.00L657.54 11.00L658.43 10.27M664.41 11.00L664.41 4.40L667.10 4.40L668.00 5.28L668.00 6.60L667.10 7.55L664.41 7.55M666.21 7.55L668.00 11.00" stroke="#4a4a4a" stroke-width="1.01" fill="none" stroke-linecap="round" stroke-linejoin="round"/>
<polyline points="709.50,10.50 728.50,15.00 709.50,19.50 709.50,10.50" stroke="#777" stroke-width="1.0" fill="#fff"/>
<circle cx="709.60" cy="15.00" r="1.3" stroke="#000" stroke-width="0" fill="#111"/>
<line x1="728.50" y1="-2.00" x2="728.50" y2="15.00" stroke="#8a8a8a" stroke-width="1.4" />
<rect x="730.50" y="-6.00" width="23.00" height="23.00" stroke="#8a8a8a" stroke-width="1.2" fill="none"/>
<path d="M737.00 9.20L737.00 2.80L740.54 2.80L741.71 3.65L741.71 4.93L740.54 5.86L737.00 5.86M740.54 5.86L741.71 6.85L741.71 8.28L740.54 9.20L737.00 9.20M745.64 8.35L745.64 3.65M743.29 6.00L748.00 6.00" stroke="#4a4a4a" stroke-width="1.01" fill="none" stroke-linecap="round" stroke-linejoin="round"/>
<path d="M756.80 -6.50L762.92 -6.50M759.86 -6.50L759.86 3.80M764.96 3.80L764.96 -6.50L769.55 -6.50L771.07 -5.13L771.07 -3.07L769.55 -1.58L764.96 -1.58M769.55 -1.58L771.07 0.02L771.07 2.31L769.55 3.80L764.96 3.80M773.11 -1.35L779.23 -1.35M781.27 -4.21L782.80 -6.50L785.86 -6.50L787.39 -4.55L787.39 -2.84L781.27 3.80L787.39 3.80M792.49 -7.64L790.45 -5.36L789.84 -1.35L790.45 2.66L792.49 4.94M796.06 -4.78L797.59 -6.50L797.59 3.80M802.68 -7.64L804.72 -5.36L805.33 -1.35L804.72 2.66L802.68 4.94M815.94 -5.13L817.47 -6.50L820.53 -6.50L822.06 -4.90L822.06 -3.07L820.53 -1.69L817.98 -1.69M820.53 -1.69L822.06 -0.21L822.06 2.20L820.53 3.80L817.47 3.80L815.94 2.43M824.10 5.52L830.21 -7.64M832.25 -4.21L833.78 -6.50L836.84 -6.50L838.37 -4.55L838.37 -2.84L832.25 3.80L838.37 3.80M840.41 -6.50L846.53 -6.50L842.25 3.80M856.73 3.80L856.73 -6.50L861.31 -6.50L862.84 -5.13L862.84 -3.07L861.31 -1.58L856.73 -1.58M861.31 -1.58L862.84 0.02L862.84 2.31L861.31 3.80L856.73 3.80M867.94 2.43L867.94 -5.13M864.88 -1.35L871.00 -1.35" stroke="#4a4a4a" stroke-width="1.16" fill="none" stroke-linecap="round" stroke-linejoin="round"/>
<path d="M756.80 10.80L762.92 10.80M759.86 10.80L759.86 20.00M764.96 20.00L764.96 10.80L769.55 10.80L771.07 12.03L771.07 13.87L769.55 15.20L764.96 15.20M769.55 15.20L771.07 16.63L771.07 18.67L769.55 20.00L764.96 20.00M773.11 15.40L779.23 15.40M781.27 12.84L782.80 10.80L785.86 10.80L787.39 12.54L787.39 14.07L781.27 20.00L787.39 20.00M792.49 9.78L790.45 11.82L789.84 15.40L790.45 18.98L792.49 21.02M794.53 12.84L796.06 10.80L799.12 10.80L800.64 12.54L800.64 14.07L794.53 20.00L800.64 20.00M802.68 9.78L804.72 11.82L805.33 15.40L804.72 18.98L802.68 21.02M815.94 12.03L817.47 10.80L820.53 10.80L822.06 12.23L822.06 13.87L820.53 15.09L817.98 15.09M820.53 15.09L822.06 16.42L822.06 18.57L820.53 20.00L817.47 20.00L815.94 18.77M824.10 21.53L830.21 9.78M832.25 12.84L833.78 10.80L836.84 10.80L838.37 12.54L838.37 14.07L832.25 20.00L838.37 20.00M841.94 10.80L845.00 10.80L846.53 12.03L846.53 13.87L845.00 15.20L841.94 15.20L840.41 13.87L840.41 12.03L841.94 10.80M841.94 15.20L840.41 16.63L840.41 18.67L841.94 20.00L845.00 20.00L846.53 18.67L846.53 16.63L845.00 15.20M856.73 20.00L856.73 10.80L861.31 10.80L862.84 12.03L862.84 13.87L861.31 15.20L856.73 15.20M861.31 15.20L862.84 16.63L862.84 18.67L861.31 20.00L856.73 20.00M867.94 18.77L867.94 12.03M864.88 15.40L871.00 15.40" stroke="#4a4a4a" stroke-width="1.12" fill="none" stroke-linecap="round" stroke-linejoin="round"/>
<line x1="459.80" y1="71.00" x2="473.30" y2="71.00" stroke="#8a8a8a" stroke-width="1.4" />
<line x1="478.50" y1="71.00" x2="698.00" y2="71.00" stroke="#7a7a7a" stroke-width="1.1" stroke-dasharray="11.3 5.5"/>
<line x1="697.00" y1="71.00" x2="709.60" y2="71.00" stroke="#8a8a8a" stroke-width="1.4" />
<polyline points="709.50,66.50 728.50,71.00 709.50,75.50 709.50,66.50" stroke="#777" stroke-width="1.0" fill="#fff"/>
<circle cx="709.60" cy="71.00" r="1.3" stroke="#000" stroke-width="0" fill="#111"/>
<rect x="730.50" y="60.00" width="23.00" height="22.50" stroke="#8a8a8a" stroke-width="1.2" fill="none"/>
<path d="M737.00 74.20L737.00 67.80L740.54 67.80L741.71 68.65L741.71 69.93L740.54 70.86L737.00 70.86M740.54 70.86L741.71 71.85L741.71 73.28L740.54 74.20L737.00 74.20M745.64 73.35L745.64 68.65M743.29 71.00L748.00 71.00" stroke="#4a4a4a" stroke-width="1.01" fill="none" stroke-linecap="round" stroke-linejoin="round"/>
<path d="M756.80 66.70L762.91 66.70M759.86 66.70L759.86 76.70M771.07 68.37L769.54 66.70L766.48 66.70L764.95 68.92L764.95 74.48L766.48 76.70L769.54 76.70L771.07 75.03M773.11 71.70L779.22 71.70M781.26 68.92L782.79 66.70L785.85 66.70L787.37 68.59L787.37 70.26L781.26 76.70L787.37 76.70M797.57 68.03L799.09 66.70L802.15 66.70L803.68 68.26L803.68 70.03L802.15 71.37L799.60 71.37M802.15 71.37L803.68 72.81L803.68 75.14L802.15 76.70L799.09 76.70L797.57 75.37M805.72 78.37L811.83 65.59M813.87 68.03L815.40 66.70L818.46 66.70L819.99 68.26L819.99 70.03L818.46 71.37L815.91 71.37M818.46 71.37L819.99 72.81L819.99 75.14L818.46 76.70L815.40 76.70L813.87 75.37M822.03 68.92L823.55 66.70L826.61 66.70L828.14 68.59L828.14 70.26L822.03 76.70L828.14 76.70M838.33 76.70L838.33 66.70L842.92 66.70L844.45 68.03L844.45 70.03L842.92 71.48L838.33 71.48M842.92 71.48L844.45 73.03L844.45 75.26L842.92 76.70L838.33 76.70M849.54 75.37L849.54 68.03M846.49 71.70L852.60 71.70" stroke="#4a4a4a" stroke-width="1.15" fill="none" stroke-linecap="round" stroke-linejoin="round"/>
<line x1="459.80" y1="136.50" x2="473.30" y2="136.50" stroke="#8a8a8a" stroke-width="1.4" />
<line x1="478.50" y1="136.50" x2="698.00" y2="136.50" stroke="#7a7a7a" stroke-width="1.1" stroke-dasharray="11.3 5.5"/>
<line x1="697.00" y1="136.50" x2="709.60" y2="136.50" stroke="#8a8a8a" stroke-width="1.4" />
<polyline points="709.50,132.00 728.50,136.50 709.50,141.00 709.50,132.00" stroke="#777" stroke-width="1.0" fill="#fff"/>
<circle cx="709.60" cy="136.60" r="1.3" stroke="#000" stroke-width="0" fill="#111"/>
<rect x="730.50" y="125.50" width="23.00" height="22.50" stroke="#8a8a8a" stroke-width="1.2" fill="none"/>
<path d="M737.00 139.80L737.00 133.40L740.54 133.40L741.71 134.25L741.71 135.53L740.54 136.46L737.00 136.46M740.54 136.46L741.71 137.45L741.71 138.88L740.54 139.80L737.00 139.80M745.64 138.95L745.64 134.25M743.29 136.60L748.00 136.60" stroke="#4a4a4a" stroke-width="1.01" fill="none" stroke-linecap="round" stroke-linejoin="round"/>
<path d="M756.80 132.30L762.91 132.30M759.86 132.30L759.86 142.30M764.95 142.30L764.95 132.30L768.52 132.30L771.07 135.08L771.07 139.52L768.52 142.30L764.95 142.30M773.11 137.30L779.22 137.30M782.79 133.97L784.32 132.30L784.32 142.30M797.57 133.63L799.09 132.30L802.15 132.30L803.68 133.86L803.68 135.63L802.15 136.97L799.60 136.97M802.15 136.97L803.68 138.41L803.68 140.74L802.15 142.30L799.09 142.30L797.57 140.97M805.72 143.97L811.83 131.19M813.87 133.63L815.40 132.30L818.46 132.30L819.99 133.86L819.99 135.63L818.46 136.97L815.91 136.97M818.46 136.97L819.99 138.41L819.99 140.74L818.46 142.30L815.40 142.30L813.87 140.97M822.03 133.63L823.55 132.30L826.61 132.30L828.14 133.86L828.14 135.63L826.61 136.97L824.06 136.97M826.61 136.97L828.14 138.41L828.14 140.74L826.61 142.30L823.55 142.30L822.03 140.97M838.33 142.30L838.33 132.30L842.92 132.30L844.45 133.63L844.45 135.63L842.92 137.08L838.33 137.08M842.92 137.08L844.45 138.63L844.45 140.86L842.92 142.30L838.33 142.30M849.54 140.97L849.54 133.63M846.49 137.30L852.60 137.30" stroke="#4a4a4a" stroke-width="1.15" fill="none" stroke-linecap="round" stroke-linejoin="round"/>
<line x1="459.80" y1="164.50" x2="473.30" y2="164.50" stroke="#8a8a8a" stroke-width="1.4" />
<line x1="478.50" y1="164.50" x2="698.00" y2="164.50" stroke="#7a7a7a" stroke-width="1.1" stroke-dasharray="11.3 5.5"/>
<line x1="697.00" y1="164.50" x2="709.60" y2="164.50" stroke="#8a8a8a" stroke-width="1.4" />
<polyline points="709.50,160.00 728.50,164.50 709.50,169.00 709.50,160.00" stroke="#777" stroke-width="1.0" fill="#fff"/>
<circle cx="709.60" cy="164.40" r="1.3" stroke="#000" stroke-width="0" fill="#111"/>
<rect x="730.50" y="153.00" width="23.00" height="23.00" stroke="#8a8a8a" stroke-width="1.2" fill="none"/>
<path d="M737.00 167.60L737.00 161.20L740.54 161.20L741.71 162.05L741.71 163.33L740.54 164.26L737.00 164.26M740.54 164.26L741.71 165.25L741.71 166.68L740.54 167.60L737.00 167.60M745.64 166.75L745.64 162.05M743.29 164.40L748.00 164.40" stroke="#4a4a4a" stroke-width="1.01" fill="none" stroke-linecap="round" stroke-linejoin="round"/>
<path d="M756.80 160.10L762.91 160.10M759.86 160.10L759.86 170.10M764.95 170.10L764.95 160.10L768.52 160.10L771.07 162.88L771.07 167.32L768.52 170.10L764.95 170.10M773.11 165.10L779.22 165.10M781.26 162.32L782.79 160.10L785.85 160.10L787.37 161.99L787.37 163.66L781.26 170.10L787.37 170.10M797.57 161.43L799.09 160.10L802.15 160.10L803.68 161.66L803.68 163.43L802.15 164.77L799.60 164.77M802.15 164.77L803.68 166.21L803.68 168.54L802.15 170.10L799.09 170.10L797.57 168.77M805.72 171.77L811.83 158.99M813.87 161.43L815.40 160.10L818.46 160.10L819.99 161.66L819.99 163.43L818.46 164.77L815.91 164.77M818.46 164.77L819.99 166.21L819.99 168.54L818.46 170.10L815.40 170.10L813.87 168.77M822.03 162.32L823.55 160.10L826.61 160.10L828.14 161.99L828.14 163.66L822.03 170.10L828.14 170.10M838.33 170.10L838.33 160.10L842.92 160.10L844.45 161.43L844.45 163.43L842.92 164.88L838.33 164.88M842.92 164.88L844.45 166.43L844.45 168.66L842.92 170.10L838.33 170.10M849.54 168.77L849.54 161.43M846.49 165.10L852.60 165.10" stroke="#4a4a4a" stroke-width="1.15" fill="none" stroke-linecap="round" stroke-linejoin="round"/>
<line x1="459.80" y1="202.00" x2="473.30" y2="202.00" stroke="#8a8a8a" stroke-width="1.4" />
<line x1="478.50" y1="202.00" x2="698.00" y2="202.00" stroke="#7a7a7a" stroke-width="1.1" stroke-dasharray="11.3 5.5"/>
<line x1="697.00" y1="202.00" x2="709.60" y2="202.00" stroke="#8a8a8a" stroke-width="1.4" />
<polyline points="709.50,197.00 728.50,202.00 709.50,206.50 709.50,197.00" stroke="#777" stroke-width="1.0" fill="#fff"/>
<circle cx="709.60" cy="201.80" r="1.3" stroke="#000" stroke-width="0" fill="#111"/>
<rect x="730.50" y="190.50" width="23.00" height="22.50" stroke="#8a8a8a" stroke-width="1.2" fill="none"/>
<path d="M737.00 205.00L737.00 198.60L740.54 198.60L741.71 199.45L741.71 200.73L740.54 201.66L737.00 201.66M740.54 201.66L741.71 202.65L741.71 204.08L740.54 205.00L737.00 205.00M745.64 204.15L745.64 199.45M743.29 201.80L748.00 201.80" stroke="#4a4a4a" stroke-width="1.01" fill="none" stroke-linecap="round" stroke-linejoin="round"/>
<path d="M756.80 197.50L762.91 197.50M759.86 197.50L759.86 207.50M764.95 207.50L764.95 197.50L768.52 197.50L771.07 200.28L771.07 204.72L768.52 207.50L764.95 207.50M773.11 202.50L779.22 202.50M785.85 207.50L785.85 197.50L781.26 204.39L787.37 204.39M797.57 198.83L799.09 197.50L802.15 197.50L803.68 199.06L803.68 200.83L802.15 202.17L799.60 202.17M802.15 202.17L803.68 203.61L803.68 205.94L802.15 207.50L799.09 207.50L797.57 206.17M805.72 209.17L811.83 196.39M813.87 198.83L815.40 197.50L818.46 197.50L819.99 199.06L819.99 200.83L818.46 202.17L815.91 202.17M818.46 202.17L819.99 203.61L819.99 205.94L818.46 207.50L815.40 207.50L813.87 206.17M822.03 199.72L823.55 197.50L826.61 197.50L828.14 199.39L828.14 201.06L822.03 207.50L828.14 207.50M838.33 207.50L838.33 197.50L842.92 197.50L844.45 198.83L844.45 200.83L842.92 202.28L838.33 202.28M842.92 202.28L844.45 203.83L844.45 206.06L842.92 207.50L838.33 207.50M849.54 206.17L849.54 198.83M846.49 202.50L852.60 202.50" stroke="#4a4a4a" stroke-width="1.15" fill="none" stroke-linecap="round" stroke-linejoin="round"/>
<line x1="459.80" y1="239.50" x2="709.60" y2="239.50" stroke="#8a8a8a" stroke-width="1.4" />
<polyline points="709.50,234.50 728.50,239.50 709.50,244.00 709.50,234.50" stroke="#777" stroke-width="1.0" fill="#fff"/>
<circle cx="709.60" cy="239.30" r="1.3" stroke="#000" stroke-width="0" fill="#111"/>
<rect x="730.50" y="228.00" width="23.00" height="22.50" stroke="#8a8a8a" stroke-width="1.2" fill="none"/>
<path d="M737.00 242.50L737.00 236.10L740.54 236.10L741.71 236.95L741.71 238.23L740.54 239.16L737.00 239.16M740.54 239.16L741.71 240.15L741.71 241.58L740.54 242.50L737.00 242.50M745.64 241.65L745.64 236.95M743.29 239.30L748.00 239.30" stroke="#4a4a4a" stroke-width="1.01" fill="none" stroke-linecap="round" stroke-linejoin="round"/>
<path d="M756.80 235.00L762.91 235.00M759.86 235.00L759.86 245.00M764.95 245.00L764.95 235.00L768.52 235.00L771.07 237.78L771.07 242.22L768.52 245.00L764.95 245.00M773.11 240.00L779.22 240.00M787.37 235.00L781.77 235.00L781.26 239.44L782.79 238.56L785.85 238.56L787.37 240.33L787.37 243.33L785.85 245.00L782.79 245.00L781.26 243.67M797.57 236.33L799.09 235.00L802.15 235.00L803.68 236.56L803.68 238.33L802.15 239.67L799.60 239.67M802.15 239.67L803.68 241.11L803.68 243.44L802.15 245.00L799.09 245.00L797.57 243.67M805.72 246.67L811.83 233.89M813.87 237.22L815.40 235.00L818.46 235.00L819.99 236.89L819.99 238.56L813.87 245.00L819.99 245.00M826.61 245.00L826.61 235.00L822.03 241.89L828.14 241.89M838.33 245.00L838.33 235.00L842.92 235.00L844.45 236.33L844.45 238.33L842.92 239.78L838.33 239.78M842.92 239.78L844.45 241.33L844.45 243.56L842.92 245.00L838.33 245.00M849.54 243.67L849.54 236.33M846.49 240.00L852.60 240.00" stroke="#4a4a4a" stroke-width="1.15" fill="none" stroke-linecap="round" stroke-linejoin="round"/>
<line x1="459.80" y1="267.50" x2="473.30" y2="267.50" stroke="#8a8a8a" stroke-width="1.4" />
<line x1="478.50" y1="267.50" x2="698.00" y2="267.50" stroke="#7a7a7a" stroke-width="1.1" stroke-dasharray="11.3 5.5"/>
<line x1="697.00" y1="267.50" x2="709.60" y2="267.50" stroke="#8a8a8a" stroke-width="1.4" />
<polyline points="709.50,263.00 728.50,267.50 709.50,272.00 709.50,263.00" stroke="#777" stroke-width="1.0" fill="#fff"/>
<circle cx="709.60" cy="267.40" r="1.3" stroke="#000" stroke-width="0" fill="#111"/>
<rect x="730.50" y="256.00" width="23.00" height="23.00" stroke="#8a8a8a" stroke-width="1.2" fill="none"/>
<path d="M737.00 270.60L737.00 264.20L740.54 264.20L741.71 265.05L741.71 266.33L740.54 267.26L737.00 267.26M740.54 267.26L741.71 268.25L741.71 269.68L740.54 270.60L737.00 270.60M745.64 269.75L745.64 265.05M743.29 267.40L748.00 267.40" stroke="#4a4a4a" stroke-width="1.01" fill="none" stroke-linecap="round" stroke-linejoin="round"/>
<path d="M756.80 263.10L762.91 263.10M759.86 263.10L759.86 273.10M764.95 273.10L764.95 263.10L768.52 263.10L771.07 265.88L771.07 270.32L768.52 273.10L764.95 273.10M773.11 268.10L779.22 268.10M781.26 263.10L787.37 263.10L783.09 273.10M797.57 264.43L799.09 263.10L802.15 263.10L803.68 264.66L803.68 266.43L802.15 267.77L799.60 267.77M802.15 267.77L803.68 269.21L803.68 271.54L802.15 273.10L799.09 273.10L797.57 271.77M805.72 274.77L811.83 261.99M815.40 264.77L816.93 263.10L816.93 273.10M823.55 264.77L825.08 263.10L825.08 273.10M838.33 273.10L838.33 263.10L842.92 263.10L844.45 264.43L844.45 266.43L842.92 267.88L838.33 267.88M842.92 267.88L844.45 269.43L844.45 271.66L842.92 273.10L838.33 273.10M849.54 271.77L849.54 264.43M846.49 268.10L852.60 268.10" stroke="#4a4a4a" stroke-width="1.15" fill="none" stroke-linecap="round" stroke-linejoin="round"/>
<polyline points="962.00,-2.00 962.00,496.00 1089.50,496.00" stroke="#8a8a8a" stroke-width="1.4" fill="none"/>
<polyline points="990.00,-2.00 990.00,459.00 1089.50,459.00" stroke="#8a8a8a" stroke-width="1.4" fill="none"/>
<polyline points="1018.00,-2.00 1018.00,393.50 1089.50,393.50" stroke="#8a8a8a" stroke-width="1.4" fill="none"/>
<circle cx="990.00" cy="431.00" r="2.8" stroke="#444" stroke-width="1.1" fill="#888"/>
<circle cx="990.00" cy="431.00" r="1.1" stroke="#000" stroke-width="0" fill="#000"/>
<path d="M1050.00 384.25L1049.08 383.20L1047.22 383.20L1046.30 384.60L1046.30 388.10L1047.22 389.50L1049.08 389.50L1050.00 388.45M1054.93 385.30L1054.93 389.50M1054.93 386.35L1054.01 385.30L1052.16 385.30L1051.23 386.35L1051.23 388.45L1052.16 389.50L1054.01 389.50L1054.93 388.45M1061.10 389.50L1061.10 383.20L1063.88 383.20L1064.80 384.04L1064.80 385.30L1063.88 386.21L1061.10 386.21M1062.95 386.21L1064.80 389.50" stroke="#4a4a4a" stroke-width="1.00" fill="none" stroke-linecap="round" stroke-linejoin="round"/>
<circle cx="1092.20" cy="393.30" r="2.3" stroke="#777" stroke-width="0.9" fill="#fff"/>
<path d="M1090.96 397.94A4.8 4.8 0 0 1 1090.56 388.79" stroke="#777" stroke-width="0.9" fill="none"/>
<path d="M1087.80 384.29L1088.89 382.80L1091.08 382.80L1092.17 384.07L1092.17 385.18L1087.80 389.50L1092.17 389.50M1094.72 382.80L1096.91 382.80L1098.00 384.29L1098.00 388.01L1096.91 389.50L1094.72 389.50L1093.63 388.01L1093.63 384.29L1094.72 382.80" stroke="#4a4a4a" stroke-width="1.02" fill="none" stroke-linecap="round" stroke-linejoin="round"/>
<path d="M1103.60 389.50L1103.60 383.20L1106.75 383.20L1107.80 384.04L1107.80 385.30L1106.75 386.21L1103.60 386.21M1106.75 386.21L1107.80 387.19L1107.80 388.59L1106.75 389.50L1103.60 389.50M1110.25 384.25L1111.30 383.20L1111.30 389.50M1116.90 388.66L1116.90 384.04M1114.80 386.35L1119.00 386.35" stroke="#4a4a4a" stroke-width="1.00" fill="none" stroke-linecap="round" stroke-linejoin="round"/>
<path d="M1050.00 421.95L1049.08 420.90L1047.22 420.90L1046.30 422.30L1046.30 425.80L1047.22 427.20L1049.08 427.20L1050.00 426.15M1054.93 423.00L1054.93 427.20M1054.93 424.05L1054.01 423.00L1052.16 423.00L1051.23 424.05L1051.23 426.15L1052.16 427.20L1054.01 427.20L1054.93 426.15M1061.10 427.20L1061.10 420.90L1063.88 420.90L1064.80 421.74L1064.80 423.00L1063.88 423.91L1061.10 423.91M1062.95 423.91L1064.80 427.20" stroke="#4a4a4a" stroke-width="1.00" fill="none" stroke-linecap="round" stroke-linejoin="round"/>
<circle cx="1092.20" cy="431.00" r="2.3" stroke="#777" stroke-width="0.9" fill="#fff"/>
<path d="M1090.96 435.64A4.8 4.8 0 0 1 1090.56 426.49" stroke="#777" stroke-width="0.9" fill="none"/>
<path d="M1087.80 421.99L1088.89 420.50L1091.08 420.50L1092.17 421.77L1092.17 422.88L1087.80 427.20L1092.17 427.20M1094.72 421.62L1095.81 420.50L1095.81 427.20" stroke="#4a4a4a" stroke-width="1.02" fill="none" stroke-linecap="round" stroke-linejoin="round"/>
<path d="M1103.60 427.20L1103.60 420.90L1106.75 420.90L1107.80 421.74L1107.80 423.00L1106.75 423.91L1103.60 423.91M1106.75 423.91L1107.80 424.89L1107.80 426.29L1106.75 427.20L1103.60 427.20M1109.20 422.30L1110.25 420.90L1112.35 420.90L1113.40 422.09L1113.40 423.14L1109.20 427.20L1113.40 427.20M1116.90 426.36L1116.90 421.74M1114.80 424.05L1119.00 424.05" stroke="#4a4a4a" stroke-width="1.00" fill="none" stroke-linecap="round" stroke-linejoin="round"/>
<path d="M1050.00 449.85L1049.08 448.80L1047.22 448.80L1046.30 450.20L1046.30 453.70L1047.22 455.10L1049.08 455.10L1050.00 454.05M1054.93 450.90L1054.93 455.10M1054.93 451.95L1054.01 450.90L1052.16 450.90L1051.23 451.95L1051.23 454.05L1052.16 455.10L1054.01 455.10L1054.93 454.05M1061.10 455.10L1061.10 448.80L1063.88 448.80L1064.80 449.64L1064.80 450.90L1063.88 451.81L1061.10 451.81M1062.95 451.81L1064.80 455.10" stroke="#4a4a4a" stroke-width="1.00" fill="none" stroke-linecap="round" stroke-linejoin="round"/>
<circle cx="1092.20" cy="458.90" r="2.3" stroke="#777" stroke-width="0.9" fill="#fff"/>
<path d="M1090.96 463.54A4.8 4.8 0 0 1 1090.56 454.39" stroke="#777" stroke-width="0.9" fill="none"/>
<path d="M1087.80 449.89L1088.89 448.40L1091.08 448.40L1092.17 449.67L1092.17 450.78L1087.80 455.10L1092.17 455.10M1093.63 449.89L1094.72 448.40L1096.91 448.40L1098.00 449.67L1098.00 450.78L1093.63 455.10L1098.00 455.10" stroke="#4a4a4a" stroke-width="1.02" fill="none" stroke-linecap="round" stroke-linejoin="round"/>
<path d="M1103.60 455.10L1103.60 448.80L1106.75 448.80L1107.80 449.64L1107.80 450.90L1106.75 451.81L1103.60 451.81M1106.75 451.81L1107.80 452.79L1107.80 454.19L1106.75 455.10L1103.60 455.10M1109.20 449.64L1110.25 448.80L1112.35 448.80L1113.40 449.78L1113.40 450.90L1112.35 451.74L1110.60 451.74M1112.35 451.74L1113.40 452.65L1113.40 454.12L1112.35 455.10L1110.25 455.10L1109.20 454.26M1116.90 454.26L1116.90 449.64M1114.80 451.95L1119.00 451.95" stroke="#4a4a4a" stroke-width="1.00" fill="none" stroke-linecap="round" stroke-linejoin="round"/>
<path d="M1050.00 487.15L1049.08 486.10L1047.22 486.10L1046.30 487.50L1046.30 491.00L1047.22 492.40L1049.08 492.40L1050.00 491.35M1054.93 488.20L1054.93 492.40M1054.93 489.25L1054.01 488.20L1052.16 488.20L1051.23 489.25L1051.23 491.35L1052.16 492.40L1054.01 492.40L1054.93 491.35M1061.10 492.40L1061.10 486.10L1063.88 486.10L1064.80 486.94L1064.80 488.20L1063.88 489.11L1061.10 489.11M1062.95 489.11L1064.80 492.40" stroke="#4a4a4a" stroke-width="1.00" fill="none" stroke-linecap="round" stroke-linejoin="round"/>
<circle cx="1092.20" cy="496.20" r="2.3" stroke="#777" stroke-width="0.9" fill="#fff"/>
<path d="M1090.96 500.84A4.8 4.8 0 0 1 1090.56 491.69" stroke="#777" stroke-width="0.9" fill="none"/>
<path d="M1087.80 487.19L1088.89 485.70L1091.08 485.70L1092.17 486.97L1092.17 488.08L1087.80 492.40L1092.17 492.40M1093.63 486.59L1094.72 485.70L1096.91 485.70L1098.00 486.74L1098.00 487.93L1096.91 488.83L1095.09 488.83M1096.91 488.83L1098.00 489.79L1098.00 491.36L1096.91 492.40L1094.72 492.40L1093.63 491.51" stroke="#4a4a4a" stroke-width="1.02" fill="none" stroke-linecap="round" stroke-linejoin="round"/>
<path d="M1103.60 492.40L1103.60 486.10L1106.75 486.10L1107.80 486.94L1107.80 488.20L1106.75 489.11L1103.60 489.11M1106.75 489.11L1107.80 490.09L1107.80 491.49L1106.75 492.40L1103.60 492.40M1112.35 492.40L1112.35 486.10L1109.20 490.44L1113.40 490.44M1116.90 491.56L1116.90 486.94M1114.80 489.25L1119.00 489.25" stroke="#4a4a4a" stroke-width="1.00" fill="none" stroke-linecap="round" stroke-linejoin="round"/>
<rect x="1097.50" y="374.50" width="28.00" height="135.50" stroke="#8a8a8a" stroke-width="1.2" fill="none"/>
<path d="M1041.28 363.50L1040.06 362.00L1037.62 362.00L1036.40 364.00L1036.40 369.00L1037.62 371.00L1040.06 371.00L1041.28 369.50M1047.78 362.00L1042.90 362.00L1042.90 371.00L1047.78 371.00M1042.90 366.30L1046.15 366.30M1049.40 371.00L1049.40 362.00L1052.25 368.00L1055.09 362.00L1055.09 371.00M1068.10 363.50L1066.88 362.00L1064.44 362.00L1063.22 364.00L1063.22 369.00L1064.44 371.00L1066.88 371.00L1068.10 369.50M1069.72 362.00L1074.60 362.00L1071.19 371.00M1085.16 361.00L1083.54 363.00L1083.05 366.50L1083.54 370.00L1085.16 372.00M1091.67 363.50L1090.45 362.00L1088.01 362.00L1086.79 364.00L1086.79 369.00L1088.01 371.00L1090.45 371.00L1091.67 369.50L1091.67 367.00L1089.63 367.00M1093.29 365.00L1093.29 371.00M1093.29 367.00L1094.75 365.00L1096.38 365.00L1097.03 365.50M1098.66 368.00L1103.53 368.00L1103.53 366.50L1102.31 365.00L1099.88 365.00L1098.66 366.50L1098.66 369.50L1099.88 371.00L1102.31 371.00L1103.53 370.00M1105.16 368.00L1110.03 368.00L1110.03 366.50L1108.82 365.00L1106.38 365.00L1105.16 366.50L1105.16 369.50L1106.38 371.00L1108.82 371.00L1110.03 370.00M1111.66 365.00L1111.66 371.00M1111.66 366.50L1112.88 365.00L1115.32 365.00L1116.54 366.50L1116.54 371.00M1118.16 361.00L1119.79 363.00L1120.27 366.50L1119.79 370.00L1118.16 372.00" stroke="#4a4a4a" stroke-width="1.11" fill="none" stroke-linecap="round" stroke-linejoin="round"/>
<path d="M1103.39 356.17L1102.44 355.20L1100.55 355.20L1099.60 356.49L1099.60 359.71L1100.55 361.00L1102.44 361.00L1103.39 360.03M1105.60 355.20L1107.49 355.20L1108.44 356.49L1108.44 359.71L1107.49 361.00L1105.60 361.00L1104.65 359.71L1104.65 356.49L1105.60 355.20M1113.49 355.20L1110.02 355.20L1109.71 357.78L1110.65 357.26L1112.55 357.26L1113.49 358.29L1113.49 360.03L1112.55 361.00L1110.65 361.00L1109.71 360.23M1115.71 355.20L1117.60 355.20L1118.55 355.97L1118.55 357.13L1117.60 357.97L1115.71 357.97L1114.76 357.13L1114.76 355.97L1115.71 355.20M1115.71 357.97L1114.76 358.87L1114.76 360.16L1115.71 361.00L1117.60 361.00L1118.55 360.16L1118.55 358.87L1117.60 357.97M1123.35 355.72L1122.53 355.20L1120.95 355.20L1119.81 356.62L1119.81 359.71L1120.76 361.00L1122.65 361.00L1123.60 360.03L1123.60 358.68L1122.65 357.65L1120.76 357.65L1119.81 358.68" stroke="#4a4a4a" stroke-width="0.98" fill="none" stroke-linecap="round" stroke-linejoin="round"/>
<polyline points="1125.50,-2.00 1125.50,715.50 1443.50,715.50 1443.50,-2.00" stroke="#8a8a8a" stroke-width="1.4" fill="none"/>
<line x1="1387.50" y1="-2.00" x2="1387.50" y2="627.10" stroke="#8a8a8a" stroke-width="1.4" />
<polyline points="1443.50,19.50 1415.50,19.50 1415.50,47.50" stroke="#8a8a8a" stroke-width="1.4" fill="none"/>
<polyline points="1443.50,76.00 1415.50,76.00 1415.50,664.50 1443.50,664.50" stroke="#8a8a8a" stroke-width="1.4" fill="none"/>
<line x1="1443.50" y1="117.00" x2="1445.00" y2="117.00" stroke="#8a8a8a" stroke-width="1.4" />
<line x1="1443.50" y1="150.00" x2="1445.00" y2="150.00" stroke="#8a8a8a" stroke-width="1.4" />
<line x1="1443.50" y1="575.50" x2="1445.00" y2="575.50" stroke="#8a8a8a" stroke-width="1.4" />
<line x1="1443.50" y1="609.00" x2="1445.00" y2="609.00" stroke="#8a8a8a" stroke-width="1.4" />
<line x1="1443.50" y1="679.00" x2="1445.00" y2="679.00" stroke="#8a8a8a" stroke-width="1.4" />
<circle cx="1321.80" cy="47.70" r="2.5" stroke="#777" stroke-width="0.9" fill="#fff"/>
<line x1="1324.30" y1="47.50" x2="1328.20" y2="47.50" stroke="#8a8a8a" stroke-width="1.4" />
<rect x="1328.00" y="43.50" width="24.50" height="8.50" stroke="#888" stroke-width="1.0" fill="none"/>
<line x1="1328.20" y1="47.50" x2="1352.70" y2="47.50" stroke="#8a8a8a" stroke-width="1.4" />
<line x1="1352.70" y1="47.50" x2="1356.80" y2="47.50" stroke="#8a8a8a" stroke-width="1.4" />
<circle cx="1359.30" cy="47.70" r="2.5" stroke="#777" stroke-width="0.9" fill="#fff"/>
<line x1="1361.80" y1="47.50" x2="1443.50" y2="47.50" stroke="#8a8a8a" stroke-width="1.4" />
<path d="M1317.31 35.70L1312.40 35.70L1312.40 43.10M1312.40 39.24L1315.67 39.24M1322.63 43.10L1322.63 35.70L1318.95 40.80L1323.85 40.80M1325.49 36.69L1326.72 35.70L1329.17 35.70L1330.40 36.85L1330.40 38.17L1329.17 39.15L1327.13 39.15M1329.17 39.15L1330.40 40.22L1330.40 41.95L1329.17 43.10L1326.72 43.10L1325.49 42.11" stroke="#4a4a4a" stroke-width="1.05" fill="none" stroke-linecap="round" stroke-linejoin="round"/>
<path d="M1347.00 36.75L1347.99 35.80L1347.99 41.50M1355.29 35.80L1351.64 35.80L1351.31 38.33L1352.30 37.83L1354.29 37.83L1355.29 38.84L1355.29 40.55L1354.29 41.50L1352.30 41.50L1351.31 40.74M1356.61 41.50L1357.21 41.50L1357.21 40.99L1356.61 40.99L1356.61 41.50M1359.60 35.80L1361.59 35.80L1362.59 37.07L1362.59 40.23L1361.59 41.50L1359.60 41.50L1358.60 40.23L1358.60 37.07L1359.60 35.80M1369.22 41.50L1371.21 35.80L1373.20 41.50M1369.88 39.60L1372.54 39.60" stroke="#4a4a4a" stroke-width="0.98" fill="none" stroke-linecap="round" stroke-linejoin="round"/>
<circle cx="1321.80" cy="169.30" r="2.5" stroke="#777" stroke-width="0.9" fill="#fff"/>
<line x1="1324.30" y1="169.50" x2="1328.20" y2="169.50" stroke="#8a8a8a" stroke-width="1.4" />
<rect x="1328.00" y="165.00" width="24.50" height="8.50" stroke="#888" stroke-width="1.0" fill="none"/>
<line x1="1328.20" y1="169.50" x2="1352.70" y2="169.50" stroke="#8a8a8a" stroke-width="1.4" />
<line x1="1352.70" y1="169.50" x2="1356.80" y2="169.50" stroke="#8a8a8a" stroke-width="1.4" />
<circle cx="1359.30" cy="169.30" r="2.5" stroke="#777" stroke-width="0.9" fill="#fff"/>
<line x1="1361.80" y1="169.50" x2="1443.50" y2="169.50" stroke="#8a8a8a" stroke-width="1.4" />
<path d="M1317.31 157.30L1312.40 157.30L1312.40 164.70M1312.40 160.84L1315.67 160.84M1320.17 157.30L1322.63 157.30L1323.85 158.29L1323.85 159.77L1322.63 160.84L1320.17 160.84L1318.95 159.77L1318.95 158.29L1320.17 157.30M1320.17 160.84L1318.95 161.99L1318.95 163.63L1320.17 164.70L1322.63 164.70L1323.85 163.63L1323.85 161.99L1322.63 160.84M1326.72 158.53L1327.95 157.30L1327.95 164.70" stroke="#4a4a4a" stroke-width="1.05" fill="none" stroke-linecap="round" stroke-linejoin="round"/>
<path d="M1346.00 158.67L1347.00 157.40L1348.99 157.40L1349.98 158.48L1349.98 159.43L1346.00 163.10L1349.98 163.10M1352.30 157.40L1354.29 157.40L1355.29 158.67L1355.29 161.83L1354.29 163.10L1352.30 163.10L1351.31 161.83L1351.31 158.67L1352.30 157.40M1356.61 163.10L1357.21 163.10L1357.21 162.59L1356.61 162.59L1356.61 163.10M1359.60 157.40L1361.59 157.40L1362.59 158.67L1362.59 161.83L1361.59 163.10L1359.60 163.10L1358.60 161.83L1358.60 158.67L1359.60 157.40M1369.22 163.10L1371.21 157.40L1373.20 163.10M1369.88 161.20L1372.54 161.20" stroke="#4a4a4a" stroke-width="0.98" fill="none" stroke-linecap="round" stroke-linejoin="round"/>
<circle cx="1321.80" cy="197.50" r="2.5" stroke="#777" stroke-width="0.9" fill="#fff"/>
<line x1="1324.30" y1="197.50" x2="1328.20" y2="197.50" stroke="#8a8a8a" stroke-width="1.4" />
<rect x="1328.00" y="193.50" width="24.50" height="8.00" stroke="#888" stroke-width="1.0" fill="none"/>
<line x1="1328.20" y1="197.50" x2="1352.70" y2="197.50" stroke="#8a8a8a" stroke-width="1.4" />
<line x1="1352.70" y1="197.50" x2="1356.80" y2="197.50" stroke="#8a8a8a" stroke-width="1.4" />
<circle cx="1359.30" cy="197.50" r="2.5" stroke="#777" stroke-width="0.9" fill="#fff"/>
<line x1="1361.80" y1="197.50" x2="1443.50" y2="197.50" stroke="#8a8a8a" stroke-width="1.4" />
<path d="M1317.31 185.50L1312.40 185.50L1312.40 192.90M1312.40 189.04L1315.67 189.04M1318.95 185.50L1323.85 185.50L1320.42 192.90M1325.49 185.50L1330.40 185.50L1326.96 192.90" stroke="#4a4a4a" stroke-width="1.05" fill="none" stroke-linecap="round" stroke-linejoin="round"/>
<path d="M1347.00 186.55L1347.99 185.60L1347.99 191.30M1355.29 185.60L1351.64 185.60L1351.31 188.13L1352.30 187.63L1354.29 187.63L1355.29 188.64L1355.29 190.35L1354.29 191.30L1352.30 191.30L1351.31 190.54M1356.61 191.30L1357.21 191.30L1357.21 190.79L1356.61 190.79L1356.61 191.30M1359.60 185.60L1361.59 185.60L1362.59 186.87L1362.59 190.03L1361.59 191.30L1359.60 191.30L1358.60 190.03L1358.60 186.87L1359.60 185.60M1369.22 191.30L1371.21 185.60L1373.20 191.30M1369.88 189.40L1372.54 189.40" stroke="#4a4a4a" stroke-width="0.98" fill="none" stroke-linecap="round" stroke-linejoin="round"/>
<circle cx="1321.80" cy="253.10" r="2.5" stroke="#777" stroke-width="0.9" fill="#fff"/>
<line x1="1324.30" y1="253.00" x2="1328.20" y2="253.00" stroke="#8a8a8a" stroke-width="1.4" />
<rect x="1328.00" y="249.00" width="24.50" height="8.00" stroke="#888" stroke-width="1.0" fill="none"/>
<line x1="1328.20" y1="253.00" x2="1352.70" y2="253.00" stroke="#8a8a8a" stroke-width="1.4" />
<line x1="1352.70" y1="253.00" x2="1356.80" y2="253.00" stroke="#8a8a8a" stroke-width="1.4" />
<circle cx="1359.30" cy="253.10" r="2.5" stroke="#777" stroke-width="0.9" fill="#fff"/>
<line x1="1361.80" y1="253.00" x2="1443.50" y2="253.00" stroke="#8a8a8a" stroke-width="1.4" />
<path d="M1317.31 241.10L1312.40 241.10L1312.40 248.50M1312.40 244.64L1315.67 244.64M1320.17 241.10L1322.63 241.10L1323.85 242.09L1323.85 243.57L1322.63 244.64L1320.17 244.64L1318.95 243.57L1318.95 242.09L1320.17 241.10M1320.17 244.64L1318.95 245.79L1318.95 247.43L1320.17 248.50L1322.63 248.50L1323.85 247.43L1323.85 245.79L1322.63 244.64M1325.49 242.74L1326.72 241.10L1329.17 241.10L1330.40 242.50L1330.40 243.73L1325.49 248.50L1330.40 248.50" stroke="#4a4a4a" stroke-width="1.05" fill="none" stroke-linecap="round" stroke-linejoin="round"/>
<path d="M1346.00 242.47L1347.00 241.20L1348.99 241.20L1349.98 242.28L1349.98 243.23L1346.00 246.90L1349.98 246.90M1355.29 241.20L1351.64 241.20L1351.31 243.73L1352.30 243.23L1354.29 243.23L1355.29 244.24L1355.29 245.95L1354.29 246.90L1352.30 246.90L1351.31 246.14M1356.61 246.90L1357.21 246.90L1357.21 246.39L1356.61 246.39L1356.61 246.90M1359.60 241.20L1361.59 241.20L1362.59 242.47L1362.59 245.63L1361.59 246.90L1359.60 246.90L1358.60 245.63L1358.60 242.47L1359.60 241.20M1369.22 246.90L1371.21 241.20L1373.20 246.90M1369.88 245.00L1372.54 245.00" stroke="#4a4a4a" stroke-width="0.98" fill="none" stroke-linecap="round" stroke-linejoin="round"/>
<circle cx="1321.80" cy="281.30" r="2.5" stroke="#777" stroke-width="0.9" fill="#fff"/>
<line x1="1324.30" y1="281.50" x2="1328.20" y2="281.50" stroke="#8a8a8a" stroke-width="1.4" />
<rect x="1328.00" y="277.00" width="24.50" height="8.50" stroke="#888" stroke-width="1.0" fill="none"/>
<line x1="1328.20" y1="281.50" x2="1352.70" y2="281.50" stroke="#8a8a8a" stroke-width="1.4" />
<line x1="1352.70" y1="281.50" x2="1356.80" y2="281.50" stroke="#8a8a8a" stroke-width="1.4" />
<circle cx="1359.30" cy="281.30" r="2.5" stroke="#777" stroke-width="0.9" fill="#fff"/>
<line x1="1361.80" y1="281.50" x2="1443.50" y2="281.50" stroke="#8a8a8a" stroke-width="1.4" />
<path d="M1317.31 269.30L1312.40 269.30L1312.40 276.70M1312.40 272.84L1315.67 272.84M1323.85 269.30L1319.35 269.30L1318.95 272.59L1320.17 271.93L1322.63 271.93L1323.85 273.25L1323.85 275.47L1322.63 276.70L1320.17 276.70L1318.95 275.71M1330.07 269.96L1329.01 269.30L1326.96 269.30L1325.49 271.11L1325.49 275.06L1326.72 276.70L1329.17 276.70L1330.40 275.47L1330.40 273.74L1329.17 272.42L1326.72 272.42L1325.49 273.74" stroke="#4a4a4a" stroke-width="1.05" fill="none" stroke-linecap="round" stroke-linejoin="round"/>
<path d="M1347.00 270.35L1347.99 269.40L1347.99 275.10M1352.30 269.40L1354.29 269.40L1355.29 270.67L1355.29 273.83L1354.29 275.10L1352.30 275.10L1351.31 273.83L1351.31 270.67L1352.30 269.40M1356.61 275.10L1357.21 275.10L1357.21 274.59L1356.61 274.59L1356.61 275.10M1359.60 269.40L1361.59 269.40L1362.59 270.67L1362.59 273.83L1361.59 275.10L1359.60 275.10L1358.60 273.83L1358.60 270.67L1359.60 269.40M1369.22 275.10L1371.21 269.40L1373.20 275.10M1369.88 273.20L1372.54 273.20" stroke="#4a4a4a" stroke-width="0.98" fill="none" stroke-linecap="round" stroke-linejoin="round"/>
<circle cx="1321.80" cy="309.50" r="2.5" stroke="#777" stroke-width="0.9" fill="#fff"/>
<line x1="1324.30" y1="309.50" x2="1328.20" y2="309.50" stroke="#8a8a8a" stroke-width="1.4" />
<rect x="1328.00" y="305.50" width="24.50" height="8.00" stroke="#888" stroke-width="1.0" fill="none"/>
<line x1="1328.20" y1="309.50" x2="1352.70" y2="309.50" stroke="#8a8a8a" stroke-width="1.4" />
<line x1="1352.70" y1="309.50" x2="1356.80" y2="309.50" stroke="#8a8a8a" stroke-width="1.4" />
<circle cx="1359.30" cy="309.50" r="2.5" stroke="#777" stroke-width="0.9" fill="#fff"/>
<line x1="1361.80" y1="309.50" x2="1443.50" y2="309.50" stroke="#8a8a8a" stroke-width="1.4" />
<path d="M1317.31 297.50L1312.40 297.50L1312.40 304.90M1312.40 301.04L1315.67 301.04M1323.53 298.16L1322.46 297.50L1320.42 297.50L1318.95 299.31L1318.95 303.26L1320.17 304.90L1322.63 304.90L1323.85 303.67L1323.85 301.94L1322.63 300.62L1320.17 300.62L1318.95 301.94M1325.49 298.49L1326.72 297.50L1329.17 297.50L1330.40 298.65L1330.40 299.97L1329.17 300.95L1327.13 300.95M1329.17 300.95L1330.40 302.02L1330.40 303.75L1329.17 304.90L1326.72 304.90L1325.49 303.91" stroke="#4a4a4a" stroke-width="1.05" fill="none" stroke-linecap="round" stroke-linejoin="round"/>
<path d="M1346.00 298.87L1347.00 297.60L1348.99 297.60L1349.98 298.68L1349.98 299.63L1346.00 303.30L1349.98 303.30M1352.30 297.60L1354.29 297.60L1355.29 298.87L1355.29 302.03L1354.29 303.30L1352.30 303.30L1351.31 302.03L1351.31 298.87L1352.30 297.60M1356.61 303.30L1357.21 303.30L1357.21 302.79L1356.61 302.79L1356.61 303.30M1359.60 297.60L1361.59 297.60L1362.59 298.87L1362.59 302.03L1361.59 303.30L1359.60 303.30L1358.60 302.03L1358.60 298.87L1359.60 297.60M1369.22 303.30L1371.21 297.60L1373.20 303.30M1369.88 301.40L1372.54 301.40" stroke="#4a4a4a" stroke-width="0.98" fill="none" stroke-linecap="round" stroke-linejoin="round"/>
<circle cx="1321.80" cy="346.70" r="2.5" stroke="#777" stroke-width="0.9" fill="#fff"/>
<line x1="1324.30" y1="346.50" x2="1328.20" y2="346.50" stroke="#8a8a8a" stroke-width="1.4" />
<rect x="1328.00" y="342.50" width="24.50" height="8.50" stroke="#888" stroke-width="1.0" fill="none"/>
<line x1="1328.20" y1="346.50" x2="1352.70" y2="346.50" stroke="#8a8a8a" stroke-width="1.4" />
<line x1="1352.70" y1="346.50" x2="1356.80" y2="346.50" stroke="#8a8a8a" stroke-width="1.4" />
<circle cx="1359.30" cy="346.70" r="2.5" stroke="#777" stroke-width="0.9" fill="#fff"/>
<line x1="1361.80" y1="346.50" x2="1443.50" y2="346.50" stroke="#8a8a8a" stroke-width="1.4" />
<path d="M1317.31 334.70L1312.40 334.70L1312.40 342.10M1312.40 338.24L1315.67 338.24M1320.17 334.70L1322.63 334.70L1323.85 335.69L1323.85 337.17L1322.63 338.24L1320.17 338.24L1318.95 337.17L1318.95 335.69L1320.17 334.70M1320.17 338.24L1318.95 339.39L1318.95 341.03L1320.17 342.10L1322.63 342.10L1323.85 341.03L1323.85 339.39L1322.63 338.24M1329.17 342.10L1329.17 334.70L1325.49 339.80L1330.40 339.80" stroke="#4a4a4a" stroke-width="1.05" fill="none" stroke-linecap="round" stroke-linejoin="round"/>
<path d="M1346.00 336.07L1347.00 334.80L1348.99 334.80L1349.98 335.88L1349.98 336.83L1346.00 340.50L1349.98 340.50M1355.29 334.80L1351.64 334.80L1351.31 337.33L1352.30 336.83L1354.29 336.83L1355.29 337.84L1355.29 339.55L1354.29 340.50L1352.30 340.50L1351.31 339.74M1356.61 340.50L1357.21 340.50L1357.21 339.99L1356.61 339.99L1356.61 340.50M1359.60 334.80L1361.59 334.80L1362.59 336.07L1362.59 339.23L1361.59 340.50L1359.60 340.50L1358.60 339.23L1358.60 336.07L1359.60 334.80M1369.22 340.50L1371.21 334.80L1373.20 340.50M1369.88 338.60L1372.54 338.60" stroke="#4a4a4a" stroke-width="0.98" fill="none" stroke-linecap="round" stroke-linejoin="round"/>
<circle cx="1321.80" cy="393.40" r="2.5" stroke="#777" stroke-width="0.9" fill="#fff"/>
<line x1="1324.30" y1="393.50" x2="1328.20" y2="393.50" stroke="#8a8a8a" stroke-width="1.4" />
<rect x="1328.00" y="389.50" width="24.50" height="8.00" stroke="#888" stroke-width="1.0" fill="none"/>
<line x1="1328.20" y1="393.50" x2="1352.70" y2="393.50" stroke="#8a8a8a" stroke-width="1.4" />
<line x1="1352.70" y1="393.50" x2="1356.80" y2="393.50" stroke="#8a8a8a" stroke-width="1.4" />
<circle cx="1359.30" cy="393.40" r="2.5" stroke="#777" stroke-width="0.9" fill="#fff"/>
<line x1="1361.80" y1="393.50" x2="1443.50" y2="393.50" stroke="#8a8a8a" stroke-width="1.4" />
<path d="M1317.31 381.40L1312.40 381.40L1312.40 388.80M1312.40 384.94L1315.67 384.94M1320.17 381.40L1322.63 381.40L1323.85 382.39L1323.85 383.87L1322.63 384.94L1320.17 384.94L1318.95 383.87L1318.95 382.39L1320.17 381.40M1320.17 384.94L1318.95 386.09L1318.95 387.73L1320.17 388.80L1322.63 388.80L1323.85 387.73L1323.85 386.09L1322.63 384.94M1330.40 381.40L1325.90 381.40L1325.49 384.69L1326.72 384.03L1329.17 384.03L1330.40 385.35L1330.40 387.57L1329.17 388.80L1326.72 388.80L1325.49 387.81" stroke="#4a4a4a" stroke-width="1.05" fill="none" stroke-linecap="round" stroke-linejoin="round"/>
<path d="M1346.00 382.77L1347.00 381.50L1348.99 381.50L1349.98 382.58L1349.98 383.53L1346.00 387.20L1349.98 387.20M1355.29 381.50L1351.64 381.50L1351.31 384.03L1352.30 383.53L1354.29 383.53L1355.29 384.54L1355.29 386.25L1354.29 387.20L1352.30 387.20L1351.31 386.44M1356.61 387.20L1357.21 387.20L1357.21 386.69L1356.61 386.69L1356.61 387.20M1359.60 381.50L1361.59 381.50L1362.59 382.77L1362.59 385.93L1361.59 387.20L1359.60 387.20L1358.60 385.93L1358.60 382.77L1359.60 381.50M1369.22 387.20L1371.21 381.50L1373.20 387.20M1369.88 385.30L1372.54 385.30" stroke="#4a4a4a" stroke-width="0.98" fill="none" stroke-linecap="round" stroke-linejoin="round"/>
<circle cx="1321.80" cy="431.00" r="2.5" stroke="#777" stroke-width="0.9" fill="#fff"/>
<line x1="1324.30" y1="431.00" x2="1328.20" y2="431.00" stroke="#8a8a8a" stroke-width="1.4" />
<rect x="1328.00" y="427.00" width="24.50" height="8.00" stroke="#888" stroke-width="1.0" fill="none"/>
<line x1="1328.20" y1="431.00" x2="1352.70" y2="431.00" stroke="#8a8a8a" stroke-width="1.4" />
<line x1="1352.70" y1="431.00" x2="1356.80" y2="431.00" stroke="#8a8a8a" stroke-width="1.4" />
<circle cx="1359.30" cy="431.00" r="2.5" stroke="#777" stroke-width="0.9" fill="#fff"/>
<line x1="1361.80" y1="431.00" x2="1443.50" y2="431.00" stroke="#8a8a8a" stroke-width="1.4" />
<path d="M1317.31 419.00L1312.40 419.00L1312.40 426.40M1312.40 422.54L1315.67 422.54M1320.17 419.00L1322.63 419.00L1323.85 419.99L1323.85 421.47L1322.63 422.54L1320.17 422.54L1318.95 421.47L1318.95 419.99L1320.17 419.00M1320.17 422.54L1318.95 423.69L1318.95 425.33L1320.17 426.40L1322.63 426.40L1323.85 425.33L1323.85 423.69L1322.63 422.54M1325.49 419.99L1326.72 419.00L1329.17 419.00L1330.40 420.15L1330.40 421.47L1329.17 422.45L1327.13 422.45M1329.17 422.45L1330.40 423.52L1330.40 425.25L1329.17 426.40L1326.72 426.40L1325.49 425.41" stroke="#4a4a4a" stroke-width="1.05" fill="none" stroke-linecap="round" stroke-linejoin="round"/>
<path d="M1346.00 420.37L1347.00 419.10L1348.99 419.10L1349.98 420.18L1349.98 421.13L1346.00 424.80L1349.98 424.80M1355.29 419.10L1351.64 419.10L1351.31 421.63L1352.30 421.13L1354.29 421.13L1355.29 422.14L1355.29 423.85L1354.29 424.80L1352.30 424.80L1351.31 424.04M1356.61 424.80L1357.21 424.80L1357.21 424.29L1356.61 424.29L1356.61 424.80M1359.60 419.10L1361.59 419.10L1362.59 420.37L1362.59 423.53L1361.59 424.80L1359.60 424.80L1358.60 423.53L1358.60 420.37L1359.60 419.10M1369.22 424.80L1371.21 419.10L1373.20 424.80M1369.88 422.90L1372.54 422.90" stroke="#4a4a4a" stroke-width="0.98" fill="none" stroke-linecap="round" stroke-linejoin="round"/>
<circle cx="1321.80" cy="459.00" r="2.5" stroke="#777" stroke-width="0.9" fill="#fff"/>
<line x1="1324.30" y1="459.00" x2="1328.20" y2="459.00" stroke="#8a8a8a" stroke-width="1.4" />
<rect x="1328.00" y="455.00" width="24.50" height="8.00" stroke="#888" stroke-width="1.0" fill="none"/>
<line x1="1328.20" y1="459.00" x2="1352.70" y2="459.00" stroke="#8a8a8a" stroke-width="1.4" />
<line x1="1352.70" y1="459.00" x2="1356.80" y2="459.00" stroke="#8a8a8a" stroke-width="1.4" />
<circle cx="1359.30" cy="459.00" r="2.5" stroke="#777" stroke-width="0.9" fill="#fff"/>
<line x1="1361.80" y1="459.00" x2="1443.50" y2="459.00" stroke="#8a8a8a" stroke-width="1.4" />
<path d="M1317.31 447.00L1312.40 447.00L1312.40 454.40M1312.40 450.54L1315.67 450.54M1323.85 447.00L1319.35 447.00L1318.95 450.29L1320.17 449.63L1322.63 449.63L1323.85 450.95L1323.85 453.17L1322.63 454.40L1320.17 454.40L1318.95 453.41M1330.40 447.00L1325.90 447.00L1325.49 450.29L1326.72 449.63L1329.17 449.63L1330.40 450.95L1330.40 453.17L1329.17 454.40L1326.72 454.40L1325.49 453.41" stroke="#4a4a4a" stroke-width="1.05" fill="none" stroke-linecap="round" stroke-linejoin="round"/>
<path d="M1346.00 448.37L1347.00 447.10L1348.99 447.10L1349.98 448.18L1349.98 449.13L1346.00 452.80L1349.98 452.80M1352.30 447.10L1354.29 447.10L1355.29 448.37L1355.29 451.53L1354.29 452.80L1352.30 452.80L1351.31 451.53L1351.31 448.37L1352.30 447.10M1356.61 452.80L1357.21 452.80L1357.21 452.29L1356.61 452.29L1356.61 452.80M1359.60 447.10L1361.59 447.10L1362.59 448.37L1362.59 451.53L1361.59 452.80L1359.60 452.80L1358.60 451.53L1358.60 448.37L1359.60 447.10M1369.22 452.80L1371.21 447.10L1373.20 452.80M1369.88 450.90L1372.54 450.90" stroke="#4a4a4a" stroke-width="0.98" fill="none" stroke-linecap="round" stroke-linejoin="round"/>
<circle cx="1321.80" cy="496.30" r="2.5" stroke="#777" stroke-width="0.9" fill="#fff"/>
<line x1="1324.30" y1="496.50" x2="1328.20" y2="496.50" stroke="#8a8a8a" stroke-width="1.4" />
<rect x="1328.00" y="492.00" width="24.50" height="8.50" stroke="#888" stroke-width="1.0" fill="none"/>
<line x1="1328.20" y1="496.50" x2="1352.70" y2="496.50" stroke="#8a8a8a" stroke-width="1.4" />
<line x1="1352.70" y1="496.50" x2="1356.80" y2="496.50" stroke="#8a8a8a" stroke-width="1.4" />
<circle cx="1359.30" cy="496.30" r="2.5" stroke="#777" stroke-width="0.9" fill="#fff"/>
<line x1="1361.80" y1="496.50" x2="1443.50" y2="496.50" stroke="#8a8a8a" stroke-width="1.4" />
<path d="M1317.31 484.30L1312.40 484.30L1312.40 491.70M1312.40 487.84L1315.67 487.84M1323.53 484.96L1322.46 484.30L1320.42 484.30L1318.95 486.11L1318.95 490.06L1320.17 491.70L1322.63 491.70L1323.85 490.47L1323.85 488.74L1322.63 487.42L1320.17 487.42L1318.95 488.74M1329.17 491.70L1329.17 484.30L1325.49 489.40L1330.40 489.40" stroke="#4a4a4a" stroke-width="1.05" fill="none" stroke-linecap="round" stroke-linejoin="round"/>
<path d="M1352.59 484.40L1349.02 484.40L1348.70 486.93L1349.67 486.43L1351.62 486.43L1352.59 487.44L1352.59 489.15L1351.62 490.10L1349.67 490.10L1348.70 489.34M1353.89 490.10L1354.47 490.10L1354.47 489.59L1353.89 489.59L1353.89 490.10M1356.81 484.40L1358.75 484.40L1359.72 485.67L1359.72 488.83L1358.75 490.10L1356.81 490.10L1355.83 488.83L1355.83 485.67L1356.81 484.40M1366.21 490.10L1368.15 484.40L1370.10 490.10M1366.86 488.20L1369.45 488.20" stroke="#4a4a4a" stroke-width="0.98" fill="none" stroke-linecap="round" stroke-linejoin="round"/>
<circle cx="1321.80" cy="561.50" r="2.5" stroke="#777" stroke-width="0.9" fill="#fff"/>
<line x1="1324.30" y1="561.50" x2="1328.20" y2="561.50" stroke="#8a8a8a" stroke-width="1.4" />
<rect x="1328.00" y="557.50" width="24.50" height="8.00" stroke="#888" stroke-width="1.0" fill="none"/>
<line x1="1328.20" y1="561.50" x2="1352.70" y2="561.50" stroke="#8a8a8a" stroke-width="1.4" />
<line x1="1352.70" y1="561.50" x2="1356.80" y2="561.50" stroke="#8a8a8a" stroke-width="1.4" />
<circle cx="1359.30" cy="561.50" r="2.5" stroke="#777" stroke-width="0.9" fill="#fff"/>
<line x1="1361.80" y1="561.50" x2="1443.50" y2="561.50" stroke="#8a8a8a" stroke-width="1.4" />
<path d="M1317.31 549.50L1312.40 549.50L1312.40 556.90M1312.40 553.04L1315.67 553.04M1323.53 550.16L1322.46 549.50L1320.42 549.50L1318.95 551.31L1318.95 555.26L1320.17 556.90L1322.63 556.90L1323.85 555.67L1323.85 553.94L1322.63 552.62L1320.17 552.62L1318.95 553.94M1325.49 551.14L1326.72 549.50L1329.17 549.50L1330.40 550.90L1330.40 552.13L1325.49 556.90L1330.40 556.90" stroke="#4a4a4a" stroke-width="1.05" fill="none" stroke-linecap="round" stroke-linejoin="round"/>
<path d="M1346.00 550.87L1347.00 549.60L1348.99 549.60L1349.98 550.68L1349.98 551.63L1346.00 555.30L1349.98 555.30M1352.30 549.60L1354.29 549.60L1355.29 550.87L1355.29 554.03L1354.29 555.30L1352.30 555.30L1351.31 554.03L1351.31 550.87L1352.30 549.60M1356.61 555.30L1357.21 555.30L1357.21 554.79L1356.61 554.79L1356.61 555.30M1359.60 549.60L1361.59 549.60L1362.59 550.87L1362.59 554.03L1361.59 555.30L1359.60 555.30L1358.60 554.03L1358.60 550.87L1359.60 549.60M1369.22 555.30L1371.21 549.60L1373.20 555.30M1369.88 553.40L1372.54 553.40" stroke="#4a4a4a" stroke-width="0.98" fill="none" stroke-linecap="round" stroke-linejoin="round"/>
<circle cx="1321.80" cy="627.10" r="2.5" stroke="#777" stroke-width="0.9" fill="#fff"/>
<line x1="1324.30" y1="627.00" x2="1328.20" y2="627.00" stroke="#8a8a8a" stroke-width="1.4" />
<rect x="1328.00" y="623.00" width="24.50" height="8.00" stroke="#888" stroke-width="1.0" fill="none"/>
<line x1="1328.20" y1="627.00" x2="1352.70" y2="627.00" stroke="#8a8a8a" stroke-width="1.4" />
<line x1="1352.70" y1="627.00" x2="1356.80" y2="627.00" stroke="#8a8a8a" stroke-width="1.4" />
<circle cx="1359.30" cy="627.10" r="2.5" stroke="#777" stroke-width="0.9" fill="#fff"/>
<line x1="1361.80" y1="627.00" x2="1443.50" y2="627.00" stroke="#8a8a8a" stroke-width="1.4" />
<path d="M1317.31 615.10L1312.40 615.10L1312.40 622.50M1312.40 618.64L1315.67 618.64M1323.85 615.10L1319.35 615.10L1318.95 618.39L1320.17 617.73L1322.63 617.73L1323.85 619.05L1323.85 621.27L1322.63 622.50L1320.17 622.50L1318.95 621.51M1325.49 615.10L1330.40 615.10L1326.96 622.50" stroke="#4a4a4a" stroke-width="1.05" fill="none" stroke-linecap="round" stroke-linejoin="round"/>
<path d="M1347.00 616.15L1347.99 615.20L1347.99 620.90M1355.29 615.20L1351.64 615.20L1351.31 617.73L1352.30 617.23L1354.29 617.23L1355.29 618.24L1355.29 619.95L1354.29 620.90L1352.30 620.90L1351.31 620.14M1356.61 620.90L1357.21 620.90L1357.21 620.39L1356.61 620.39L1356.61 620.90M1359.60 615.20L1361.59 615.20L1362.59 616.47L1362.59 619.63L1361.59 620.90L1359.60 620.90L1358.60 619.63L1358.60 616.47L1359.60 615.20M1369.22 620.90L1371.21 615.20L1373.20 620.90M1369.88 619.00L1372.54 619.00" stroke="#4a4a4a" stroke-width="0.98" fill="none" stroke-linecap="round" stroke-linejoin="round"/>
<path d="M1292.40 47.70V104.00M1295.60 47.70V104.00" stroke="#747474" stroke-width="1.1" stroke-dasharray="7 2.5" fill="none"/>
<path d="M1294.00 45.40H1319.30M1294.00 48.60H1319.30" stroke="#747474" stroke-width="1.1" stroke-dasharray="7 2.5" fill="none"/>
<path d="M1292.40 104.00V644.00M1295.60 104.00V644.00" stroke="#7c7c7c" stroke-width="1.1" fill="none"/>
<path d="M1294.00 104.00V644.00" stroke="#b4b4b4" stroke-width="1" stroke-dasharray="4 2" fill="none"/>
<path d="M1297.00 102.40H1443.50M1297.00 105.60H1443.50" stroke="#7c7c7c" stroke-width="1.1" fill="none"/>
<path d="M1297.00 104.00H1443.50" stroke="#b4b4b4" stroke-width="1" stroke-dasharray="4 2" fill="none"/>
<path d="M1297.00 223.40H1443.50M1297.00 226.60H1443.50" stroke="#7c7c7c" stroke-width="1.1" fill="none"/>
<path d="M1297.00 225.00H1443.50" stroke="#b4b4b4" stroke-width="1" stroke-dasharray="4 2" fill="none"/>
<path d="M1125.30 494.40H1319.30M1125.30 497.60H1319.30" stroke="#7c7c7c" stroke-width="1.1" fill="none"/>
<path d="M1125.30 496.00H1319.30" stroke="#b4b4b4" stroke-width="1" stroke-dasharray="4 2" fill="none"/>
<path d="M1198.40 169.30V644.00M1201.60 169.30V644.00" stroke="#7c7c7c" stroke-width="1.1" fill="none"/>
<path d="M1200.00 169.30V644.00" stroke="#b4b4b4" stroke-width="1" stroke-dasharray="4 2" fill="none"/>
<path d="M1200.00 167.40H1319.30M1200.00 170.60H1319.30" stroke="#7c7c7c" stroke-width="1.1" fill="none"/>
<path d="M1200.00 169.00H1319.30" stroke="#b4b4b4" stroke-width="1" stroke-dasharray="4 2" fill="none"/>
<path d="M1203.00 251.40H1319.30M1203.00 254.60H1319.30" stroke="#7c7c7c" stroke-width="1.1" fill="none"/>
<path d="M1203.00 253.00H1319.30" stroke="#b4b4b4" stroke-width="1" stroke-dasharray="4 2" fill="none"/>
<path d="M1203.00 279.40H1319.30M1203.00 282.60H1319.30" stroke="#7c7c7c" stroke-width="1.1" fill="none"/>
<path d="M1203.00 281.00H1319.30" stroke="#b4b4b4" stroke-width="1" stroke-dasharray="4 2" fill="none"/>
<path d="M1203.00 625.40H1319.30M1203.00 628.60H1319.30" stroke="#7c7c7c" stroke-width="1.1" fill="none"/>
<path d="M1203.00 627.00H1319.30" stroke="#b4b4b4" stroke-width="1" stroke-dasharray="4 2" fill="none"/>
<path d="M1125.30 429.40H1319.30M1125.30 432.60H1319.30" stroke="#7c7c7c" stroke-width="1.1" fill="none"/>
<path d="M1125.30 431.00H1319.30" stroke="#b4b4b4" stroke-width="1" stroke-dasharray="4 2" fill="none"/>
<path d="M1097.50 429.40H1125.30M1097.50 432.60H1125.30" stroke="#7c7c7c" stroke-width="1.1" fill="none"/>
<path d="M1097.50 431.00H1125.30" stroke="#b4b4b4" stroke-width="1" stroke-dasharray="4 2" fill="none"/>
<path d="M1097.50 494.40H1125.30M1097.50 497.60H1125.30" stroke="#7c7c7c" stroke-width="1.1" fill="none"/>
<path d="M1097.50 496.00H1125.30" stroke="#b4b4b4" stroke-width="1" stroke-dasharray="4 2" fill="none"/>
<path d="M1151.40 307.50V644.00M1154.60 307.50V644.00" stroke="#747474" stroke-width="1.1" stroke-dasharray="7 2.5" fill="none"/>
<path d="M1153.50 307.40H1319.30M1153.50 310.60H1319.30" stroke="#747474" stroke-width="1.1" stroke-dasharray="7 2.5" fill="none"/>
<path d="M1156.50 344.40H1319.30M1156.50 347.60H1319.30" stroke="#747474" stroke-width="1.1" stroke-dasharray="7 2.5" fill="none"/>
<path d="M1156.50 559.40H1319.30M1156.50 562.60H1319.30" stroke="#747474" stroke-width="1.1" stroke-dasharray="7 2.5" fill="none"/>
<path d="M1097.50 391.40H1319.30M1097.50 394.60H1319.30" stroke="#747474" stroke-width="1.1" stroke-dasharray="7 2.5" fill="none"/>
<path d="M1244.60 197.80L1249.40 201.20M1244.60 201.20L1249.40 197.80M1244.60 203.80L1249.40 207.20M1244.60 207.20L1249.40 203.80M1244.60 209.80L1249.40 213.20M1244.60 213.20L1249.40 209.80M1244.60 215.80L1249.40 219.20M1244.60 219.20L1249.40 215.80M1244.60 221.80L1249.40 225.20M1244.60 225.20L1249.40 221.80M1244.60 227.80L1249.40 231.20M1244.60 231.20L1249.40 227.80M1244.60 233.80L1249.40 237.20M1244.60 237.20L1249.40 233.80M1244.60 239.80L1249.40 243.20M1244.60 243.20L1249.40 239.80M1244.60 245.80L1249.40 249.20M1244.60 249.20L1249.40 245.80M1244.60 251.80L1249.40 255.20M1244.60 255.20L1249.40 251.80M1244.60 257.80L1249.40 261.20M1244.60 261.20L1249.40 257.80M1244.60 263.80L1249.40 267.20M1244.60 267.20L1249.40 263.80M1244.60 269.80L1249.40 273.20M1244.60 273.20L1249.40 269.80M1244.60 275.80L1249.40 279.20M1244.60 279.20L1249.40 275.80M1244.60 281.80L1249.40 285.20M1244.60 285.20L1249.40 281.80M1244.60 287.80L1249.40 291.20M1244.60 291.20L1249.40 287.80M1244.60 293.80L1249.40 297.20M1244.60 297.20L1249.40 293.80M1244.60 299.80L1249.40 303.20M1244.60 303.20L1249.40 299.80M1244.60 305.80L1249.40 309.20M1244.60 309.20L1249.40 305.80M1244.60 311.80L1249.40 315.20M1244.60 315.20L1249.40 311.80M1244.60 317.80L1249.40 321.20M1244.60 321.20L1249.40 317.80M1244.60 323.80L1249.40 327.20M1244.60 327.20L1249.40 323.80M1244.60 329.80L1249.40 333.20M1244.60 333.20L1249.40 329.80M1244.60 335.80L1249.40 339.20M1244.60 339.20L1249.40 335.80M1244.60 341.80L1249.40 345.20M1244.60 345.20L1249.40 341.80M1244.60 347.80L1249.40 351.20M1244.60 351.20L1249.40 347.80M1244.60 353.80L1249.40 357.20M1244.60 357.20L1249.40 353.80M1244.60 359.80L1249.40 363.20M1244.60 363.20L1249.40 359.80M1244.60 365.80L1249.40 369.20M1244.60 369.20L1249.40 365.80M1244.60 371.80L1249.40 375.20M1244.60 375.20L1249.40 371.80M1244.60 377.80L1249.40 381.20M1244.60 381.20L1249.40 377.80M1244.60 383.80L1249.40 387.20M1244.60 387.20L1249.40 383.80M1244.60 389.80L1249.40 393.20M1244.60 393.20L1249.40 389.80M1244.60 395.80L1249.40 399.20M1244.60 399.20L1249.40 395.80M1244.60 401.80L1249.40 405.20M1244.60 405.20L1249.40 401.80M1244.60 407.80L1249.40 411.20M1244.60 411.20L1249.40 407.80M1244.60 413.80L1249.40 417.20M1244.60 417.20L1249.40 413.80M1244.60 419.80L1249.40 423.20M1244.60 423.20L1249.40 419.80M1244.60 425.80L1249.40 429.20M1244.60 429.20L1249.40 425.80M1244.60 431.80L1249.40 435.20M1244.60 435.20L1249.40 431.80M1244.60 437.80L1249.40 441.20M1244.60 441.20L1249.40 437.80M1244.60 443.80L1249.40 447.20M1244.60 447.20L1249.40 443.80M1244.60 449.80L1249.40 453.20M1244.60 453.20L1249.40 449.80M1244.60 455.80L1249.40 459.20M1244.60 459.20L1249.40 455.80M1244.60 461.80L1249.40 465.20M1244.60 465.20L1249.40 461.80M1244.60 467.80L1249.40 471.20M1244.60 471.20L1249.40 467.80M1244.60 473.80L1249.40 477.20M1244.60 477.20L1249.40 473.80M1244.60 479.80L1249.40 483.20M1244.60 483.20L1249.40 479.80M1244.60 485.80L1249.40 489.20M1244.60 489.20L1249.40 485.80M1244.60 491.80L1249.40 495.20M1244.60 495.20L1249.40 491.80M1244.60 497.80L1249.40 501.20M1244.60 501.20L1249.40 497.80M1244.60 503.80L1249.40 507.20M1244.60 507.20L1249.40 503.80M1244.60 509.80L1249.40 513.20M1244.60 513.20L1249.40 509.80M1244.60 515.80L1249.40 519.20M1244.60 519.20L1249.40 515.80M1244.60 521.80L1249.40 525.20M1244.60 525.20L1249.40 521.80M1244.60 527.80L1249.40 531.20M1244.60 531.20L1249.40 527.80M1244.60 533.80L1249.40 537.20M1244.60 537.20L1249.40 533.80M1244.60 539.80L1249.40 543.20M1244.60 543.20L1249.40 539.80M1244.60 545.80L1249.40 549.20M1244.60 549.20L1249.40 545.80M1244.60 551.80L1249.40 555.20M1244.60 555.20L1249.40 551.80M1244.60 557.80L1249.40 561.20M1244.60 561.20L1249.40 557.80M1244.60 563.80L1249.40 567.20M1244.60 567.20L1249.40 563.80M1244.60 569.80L1249.40 573.20M1244.60 573.20L1249.40 569.80M1244.60 575.80L1249.40 579.20M1244.60 579.20L1249.40 575.80M1244.60 581.80L1249.40 585.20M1244.60 585.20L1249.40 581.80M1244.60 587.80L1249.40 591.20M1244.60 591.20L1249.40 587.80M1244.60 593.80L1249.40 597.20M1244.60 597.20L1249.40 593.80M1244.60 599.80L1249.40 603.20M1244.60 603.20L1249.40 599.80M1244.60 605.80L1249.40 609.20M1244.60 609.20L1249.40 605.80M1244.60 611.80L1249.40 615.20M1244.60 615.20L1249.40 611.80M1244.60 617.80L1249.40 621.20M1244.60 621.20L1249.40 617.80M1244.60 623.80L1249.40 627.20M1244.60 627.20L1249.40 623.80M1244.60 629.80L1249.40 633.20M1244.60 633.20L1249.40 629.80M1244.60 635.80L1249.40 639.20M1244.60 639.20L1249.40 635.80M1244.60 641.80L1249.40 645.20M1244.60 645.20L1249.40 641.80" stroke="#4a4a4a" stroke-width="1.0" fill="none"/>
<path d="M1246.90 195.10L1251.10 199.90M1246.90 199.90L1251.10 195.10M1252.90 195.10L1257.10 199.90M1252.90 199.90L1257.10 195.10M1258.90 195.10L1263.10 199.90M1258.90 199.90L1263.10 195.10M1264.90 195.10L1269.10 199.90M1264.90 199.90L1269.10 195.10M1270.90 195.10L1275.10 199.90M1270.90 199.90L1275.10 195.10M1276.90 195.10L1281.10 199.90M1276.90 199.90L1281.10 195.10M1282.90 195.10L1287.10 199.90M1282.90 199.90L1287.10 195.10M1288.90 195.10L1293.10 199.90M1288.90 199.90L1293.10 195.10M1294.90 195.10L1299.10 199.90M1294.90 199.90L1299.10 195.10M1300.90 195.10L1305.10 199.90M1300.90 199.90L1305.10 195.10M1306.90 195.10L1311.10 199.90M1306.90 199.90L1311.10 195.10M1312.90 195.10L1317.10 199.90M1312.90 199.90L1317.10 195.10" stroke="#4a4a4a" stroke-width="1.0" fill="none"/>
<path d="M1099.30 456.40L1103.50 461.20M1099.30 461.20L1103.50 456.40M1105.30 456.40L1109.50 461.20M1105.30 461.20L1109.50 456.40M1111.30 456.40L1115.50 461.20M1111.30 461.20L1115.50 456.40M1117.30 456.40L1121.50 461.20M1117.30 461.20L1121.50 456.40M1123.30 456.40L1127.50 461.20M1123.30 461.20L1127.50 456.40M1129.30 456.40L1133.50 461.20M1129.30 461.20L1133.50 456.40M1135.30 456.40L1139.50 461.20M1135.30 461.20L1139.50 456.40M1141.30 456.40L1145.50 461.20M1141.30 461.20L1145.50 456.40M1147.30 456.40L1151.50 461.20M1147.30 461.20L1151.50 456.40M1153.30 456.40L1157.50 461.20M1153.30 461.20L1157.50 456.40M1159.30 456.40L1163.50 461.20M1159.30 461.20L1163.50 456.40M1165.30 456.40L1169.50 461.20M1165.30 461.20L1169.50 456.40M1171.30 456.40L1175.50 461.20M1171.30 461.20L1175.50 456.40M1177.30 456.40L1181.50 461.20M1177.30 461.20L1181.50 456.40M1183.30 456.40L1187.50 461.20M1183.30 461.20L1187.50 456.40M1189.30 456.40L1193.50 461.20M1189.30 461.20L1193.50 456.40M1195.30 456.40L1199.50 461.20M1195.30 461.20L1199.50 456.40M1201.30 456.40L1205.50 461.20M1201.30 461.20L1205.50 456.40M1207.30 456.40L1211.50 461.20M1207.30 461.20L1211.50 456.40M1213.30 456.40L1217.50 461.20M1213.30 461.20L1217.50 456.40M1219.30 456.40L1223.50 461.20M1219.30 461.20L1223.50 456.40M1225.30 456.40L1229.50 461.20M1225.30 461.20L1229.50 456.40M1231.30 456.40L1235.50 461.20M1231.30 461.20L1235.50 456.40M1237.30 456.40L1241.50 461.20M1237.30 461.20L1241.50 456.40M1243.30 456.40L1247.50 461.20M1243.30 461.20L1247.50 456.40M1249.30 456.40L1253.50 461.20M1249.30 461.20L1253.50 456.40M1255.30 456.40L1259.50 461.20M1255.30 461.20L1259.50 456.40M1261.30 456.40L1265.50 461.20M1261.30 461.20L1265.50 456.40M1267.30 456.40L1271.50 461.20M1267.30 461.20L1271.50 456.40M1273.30 456.40L1277.50 461.20M1273.30 461.20L1277.50 456.40M1279.30 456.40L1283.50 461.20M1279.30 461.20L1283.50 456.40M1285.30 456.40L1289.50 461.20M1285.30 461.20L1289.50 456.40M1291.30 456.40L1295.50 461.20M1291.30 461.20L1295.50 456.40M1297.30 456.40L1301.50 461.20M1297.30 461.20L1301.50 456.40M1303.30 456.40L1307.50 461.20M1303.30 461.20L1307.50 456.40M1309.30 456.40L1313.50 461.20M1309.30 461.20L1313.50 456.40M1315.30 456.40L1319.50 461.20M1315.30 461.20L1319.50 456.40" stroke="#4a4a4a" stroke-width="1.0" fill="none"/>
<line x1="1094.50" y1="459.00" x2="1097.50" y2="459.00" stroke="#8a8a8a" stroke-width="1.4" />
<circle cx="1294.00" cy="104.00" r="2.8" stroke="#444" stroke-width="1.1" fill="#888"/>
<circle cx="1294.00" cy="104.00" r="1.1" stroke="#000" stroke-width="0" fill="#000"/>
<circle cx="1294.00" cy="225.50" r="2.8" stroke="#444" stroke-width="1.1" fill="#888"/>
<circle cx="1294.00" cy="225.50" r="1.1" stroke="#000" stroke-width="0" fill="#000"/>
<circle cx="1200.50" cy="253.00" r="2.8" stroke="#444" stroke-width="1.1" fill="#888"/>
<circle cx="1200.50" cy="253.00" r="1.1" stroke="#000" stroke-width="0" fill="#000"/>
<circle cx="1200.50" cy="281.50" r="2.8" stroke="#444" stroke-width="1.1" fill="#888"/>
<circle cx="1200.50" cy="281.50" r="1.1" stroke="#000" stroke-width="0" fill="#000"/>
<circle cx="1153.50" cy="346.50" r="2.8" stroke="#444" stroke-width="1.1" fill="#888"/>
<circle cx="1153.50" cy="346.50" r="1.1" stroke="#000" stroke-width="0" fill="#000"/>
<circle cx="1153.50" cy="393.50" r="2.8" stroke="#444" stroke-width="1.1" fill="#888"/>
<circle cx="1153.50" cy="393.50" r="1.1" stroke="#000" stroke-width="0" fill="#000"/>
<circle cx="1200.50" cy="431.00" r="2.8" stroke="#444" stroke-width="1.1" fill="#888"/>
<circle cx="1200.50" cy="431.00" r="1.1" stroke="#000" stroke-width="0" fill="#000"/>
<circle cx="1247.00" cy="459.00" r="2.8" stroke="#444" stroke-width="1.1" fill="#888"/>
<circle cx="1247.00" cy="459.00" r="1.1" stroke="#000" stroke-width="0" fill="#000"/>
<circle cx="1294.00" cy="496.50" r="2.8" stroke="#444" stroke-width="1.1" fill="#888"/>
<circle cx="1294.00" cy="496.50" r="1.1" stroke="#000" stroke-width="0" fill="#000"/>
<circle cx="1153.50" cy="561.50" r="2.8" stroke="#444" stroke-width="1.1" fill="#888"/>
<circle cx="1153.50" cy="561.50" r="1.1" stroke="#000" stroke-width="0" fill="#000"/>
<circle cx="1200.50" cy="627.00" r="2.8" stroke="#444" stroke-width="1.1" fill="#888"/>
<circle cx="1200.50" cy="627.00" r="1.1" stroke="#000" stroke-width="0" fill="#000"/>
<circle cx="1415.50" cy="47.50" r="2.8" stroke="#444" stroke-width="1.1" fill="#888"/>
<circle cx="1415.50" cy="47.50" r="1.1" stroke="#000" stroke-width="0" fill="#000"/>
<circle cx="1415.50" cy="281.50" r="2.8" stroke="#444" stroke-width="1.1" fill="#888"/>
<circle cx="1415.50" cy="281.50" r="1.1" stroke="#000" stroke-width="0" fill="#000"/>
<circle cx="1387.50" cy="627.00" r="2.8" stroke="#444" stroke-width="1.1" fill="#888"/>
<circle cx="1387.50" cy="627.00" r="1.1" stroke="#000" stroke-width="0" fill="#000"/>
<polyline points="1148.50,645.50 1153.50,664.00 1158.50,645.50 1148.50,645.50" stroke="#777" stroke-width="1.0" fill="#fff"/>
<circle cx="1153.50" cy="645.50" r="1.2" stroke="#000" stroke-width="0" fill="#111"/>
<rect x="1142.50" y="667.50" width="22.50" height="22.00" stroke="#8a8a8a" stroke-width="1.2" fill="none"/>
<path d="M1148.20 681.60L1148.20 675.20L1151.67 675.20L1152.83 676.05L1152.83 677.33L1151.67 678.26L1148.20 678.26M1151.67 678.26L1152.83 679.25L1152.83 680.68L1151.67 681.60L1148.20 681.60M1156.69 680.75L1156.69 676.05M1154.37 678.40L1159.00 678.40" stroke="#4a4a4a" stroke-width="1.01" fill="none" stroke-linecap="round" stroke-linejoin="round"/>
<path d="M1136.00 691.67L1136.98 690.80L1138.93 690.80L1139.91 691.81L1139.91 692.97L1138.93 693.83L1137.30 693.83M1138.93 693.83L1139.91 694.77L1139.91 696.29L1138.93 697.30L1136.98 697.30L1136.00 696.43M1141.21 698.38L1145.13 690.08M1150.34 690.80L1146.76 690.80L1146.43 693.69L1147.41 693.11L1149.36 693.11L1150.34 694.27L1150.34 696.22L1149.36 697.30L1147.41 697.30L1146.43 696.43M1156.86 697.30L1156.86 690.80L1159.79 690.80L1160.77 691.67L1160.77 692.97L1159.79 693.91L1156.86 693.91M1159.79 693.91L1160.77 694.92L1160.77 696.36L1159.79 697.30L1156.86 697.30M1163.05 691.88L1164.03 690.80L1164.03 697.30M1169.24 696.43L1169.24 691.67M1167.29 694.05L1171.20 694.05" stroke="#4a4a4a" stroke-width="1.01" fill="none" stroke-linecap="round" stroke-linejoin="round"/>
<polyline points="1195.00,645.50 1200.00,664.00 1205.00,645.50 1195.00,645.50" stroke="#777" stroke-width="1.0" fill="#fff"/>
<circle cx="1200.00" cy="645.50" r="1.2" stroke="#000" stroke-width="0" fill="#111"/>
<rect x="1189.00" y="667.50" width="22.50" height="22.00" stroke="#8a8a8a" stroke-width="1.2" fill="none"/>
<path d="M1194.70 681.60L1194.70 675.20L1198.17 675.20L1199.33 676.05L1199.33 677.33L1198.17 678.26L1194.70 678.26M1198.17 678.26L1199.33 679.25L1199.33 680.68L1198.17 681.60L1194.70 681.60M1203.19 680.75L1203.19 676.05M1200.87 678.40L1205.50 678.40" stroke="#4a4a4a" stroke-width="1.01" fill="none" stroke-linecap="round" stroke-linejoin="round"/>
<path d="M1183.00 691.67L1183.97 690.80L1185.92 690.80L1186.89 691.81L1186.89 692.97L1185.92 693.83L1184.30 693.83M1185.92 693.83L1186.89 694.77L1186.89 696.29L1185.92 697.30L1183.97 697.30L1183.00 696.43M1188.19 698.38L1192.07 690.08M1197.26 690.80L1193.69 690.80L1193.37 693.69L1194.34 693.11L1196.29 693.11L1197.26 694.27L1197.26 696.22L1196.29 697.30L1194.34 697.30L1193.37 696.43M1203.74 697.30L1203.74 690.80L1206.66 690.80L1207.63 691.67L1207.63 692.97L1206.66 693.91L1203.74 693.91M1206.66 693.91L1207.63 694.92L1207.63 696.36L1206.66 697.30L1203.74 697.30M1208.93 692.24L1209.90 690.80L1211.84 690.80L1212.81 692.03L1212.81 693.11L1208.93 697.30L1212.81 697.30M1216.06 696.43L1216.06 691.67M1214.11 694.05L1218.00 694.05" stroke="#4a4a4a" stroke-width="1.01" fill="none" stroke-linecap="round" stroke-linejoin="round"/>
<path d="M1181.00 701.67L1181.94 700.80L1183.83 700.80L1184.77 701.81L1184.77 702.97L1183.83 703.83L1182.26 703.83M1183.83 703.83L1184.77 704.77L1184.77 706.29L1183.83 707.30L1181.94 707.30L1181.00 706.43M1186.03 708.38L1189.81 700.08M1192.01 701.88L1192.95 700.80L1192.95 707.30M1197.04 700.80L1198.93 700.80L1199.87 701.67L1199.87 702.97L1198.93 703.91L1197.04 703.91L1196.10 702.97L1196.10 701.67L1197.04 700.80M1197.04 703.91L1196.10 704.92L1196.10 706.36L1197.04 707.30L1198.93 707.30L1199.87 706.36L1199.87 704.92L1198.93 703.91M1206.16 707.30L1206.16 700.80L1208.99 700.80L1209.94 701.67L1209.94 702.97L1208.99 703.91L1206.16 703.91M1208.99 703.91L1209.94 704.92L1209.94 706.36L1208.99 707.30L1206.16 707.30M1211.19 702.24L1212.14 700.80L1214.02 700.80L1214.97 702.03L1214.97 703.11L1211.19 707.30L1214.97 707.30M1218.11 706.43L1218.11 701.67M1216.23 704.05L1220.00 704.05" stroke="#4a4a4a" stroke-width="1.01" fill="none" stroke-linecap="round" stroke-linejoin="round"/>
<polyline points="1242.00,645.50 1247.00,664.00 1252.00,645.50 1242.00,645.50" stroke="#777" stroke-width="1.0" fill="#fff"/>
<circle cx="1247.00" cy="645.50" r="1.2" stroke="#000" stroke-width="0" fill="#111"/>
<rect x="1236.00" y="667.50" width="22.50" height="22.00" stroke="#8a8a8a" stroke-width="1.2" fill="none"/>
<path d="M1241.70 681.60L1241.70 675.20L1245.17 675.20L1246.33 676.05L1246.33 677.33L1245.17 678.26L1241.70 678.26M1245.17 678.26L1246.33 679.25L1246.33 680.68L1245.17 681.60L1241.70 681.60M1250.19 680.75L1250.19 676.05M1247.87 678.40L1252.50 678.40" stroke="#4a4a4a" stroke-width="1.01" fill="none" stroke-linecap="round" stroke-linejoin="round"/>
<path d="M1229.70 691.67L1230.67 690.80L1232.62 690.80L1233.60 691.81L1233.60 692.97L1232.62 693.83L1231.00 693.83M1232.62 693.83L1233.60 694.77L1233.60 696.29L1232.62 697.30L1230.67 697.30L1229.70 696.43M1234.90 698.38L1238.80 690.08M1240.10 690.80L1244.00 690.80L1241.27 697.30M1250.50 697.30L1250.50 690.80L1253.42 690.80L1254.40 691.67L1254.40 692.97L1253.42 693.91L1250.50 693.91M1253.42 693.91L1254.40 694.92L1254.40 696.36L1253.42 697.30L1250.50 697.30M1255.70 691.67L1256.67 690.80L1258.62 690.80L1259.60 691.81L1259.60 692.97L1258.62 693.83L1257.00 693.83M1258.62 693.83L1259.60 694.77L1259.60 696.29L1258.62 697.30L1256.67 697.30L1255.70 696.43M1262.85 696.43L1262.85 691.67M1260.90 694.05L1264.80 694.05" stroke="#4a4a4a" stroke-width="1.01" fill="none" stroke-linecap="round" stroke-linejoin="round"/>
<path d="M1227.40 701.67L1228.36 700.80L1230.27 700.80L1231.22 701.81L1231.22 702.97L1230.27 703.83L1228.67 703.83M1230.27 703.83L1231.22 704.77L1231.22 706.29L1230.27 707.30L1228.36 707.30L1227.40 706.43M1232.50 708.38L1236.32 700.08M1238.55 701.88L1239.50 700.80L1239.50 707.30M1242.69 700.80L1246.51 700.80L1243.84 707.30M1252.88 707.30L1252.88 700.80L1255.75 700.80L1256.71 701.67L1256.71 702.97L1255.75 703.91L1252.88 703.91M1255.75 703.91L1256.71 704.92L1256.71 706.36L1255.75 707.30L1252.88 707.30M1257.98 701.67L1258.94 700.80L1260.85 700.80L1261.80 701.81L1261.80 702.97L1260.85 703.83L1259.25 703.83M1260.85 703.83L1261.80 704.77L1261.80 706.29L1260.85 707.30L1258.94 707.30L1257.98 706.43M1264.99 706.43L1264.99 701.67M1263.08 704.05L1266.90 704.05" stroke="#4a4a4a" stroke-width="1.01" fill="none" stroke-linecap="round" stroke-linejoin="round"/>
<polyline points="1289.00,645.50 1294.00,664.00 1299.00,645.50 1289.00,645.50" stroke="#777" stroke-width="1.0" fill="#fff"/>
<circle cx="1294.00" cy="645.50" r="1.2" stroke="#000" stroke-width="0" fill="#111"/>
<rect x="1283.00" y="667.50" width="22.50" height="22.00" stroke="#8a8a8a" stroke-width="1.2" fill="none"/>
<path d="M1288.70 681.60L1288.70 675.20L1292.17 675.20L1293.33 676.05L1293.33 677.33L1292.17 678.26L1288.70 678.26M1292.17 678.26L1293.33 679.25L1293.33 680.68L1292.17 681.60L1288.70 681.60M1297.19 680.75L1297.19 676.05M1294.87 678.40L1299.50 678.40" stroke="#4a4a4a" stroke-width="1.01" fill="none" stroke-linecap="round" stroke-linejoin="round"/>
<path d="M1276.50 691.67L1277.45 690.80L1279.35 690.80L1280.30 691.81L1280.30 692.97L1279.35 693.83L1277.77 693.83M1279.35 693.83L1280.30 694.77L1280.30 696.29L1279.35 697.30L1277.45 697.30L1276.50 696.43M1281.57 698.38L1285.37 690.08M1290.43 690.80L1286.95 690.80L1286.63 693.69L1287.58 693.11L1289.48 693.11L1290.43 694.27L1290.43 696.22L1289.48 697.30L1287.58 697.30L1286.63 696.43M1296.77 697.30L1296.77 690.80L1299.62 690.80L1300.57 691.67L1300.57 692.97L1299.62 693.91L1296.77 693.91M1299.62 693.91L1300.57 694.92L1300.57 696.36L1299.62 697.30L1296.77 697.30M1304.68 697.30L1304.68 690.80L1301.83 695.28L1305.63 695.28M1308.80 696.43L1308.80 691.67M1306.90 694.05L1310.70 694.05" stroke="#4a4a4a" stroke-width="1.01" fill="none" stroke-linecap="round" stroke-linejoin="round"/>
<line x1="0.00" y1="762.50" x2="1445.00" y2="762.50" stroke="#7a7a7a" stroke-width="1.2" />
<line x1="0.00" y1="837.50" x2="1445.00" y2="837.50" stroke="#7a7a7a" stroke-width="1.2" />
<line x1="13.50" y1="762.50" x2="13.50" y2="837.50" stroke="#7a7a7a" stroke-width="1.2" />
<line x1="139.50" y1="762.50" x2="139.50" y2="837.50" stroke="#7a7a7a" stroke-width="1.2" />
<line x1="302.50" y1="762.50" x2="302.50" y2="837.50" stroke="#7a7a7a" stroke-width="1.2" />
<path d="M-1 772.5 Q5 770 7.5 774.5 Q5.5 779.5 0.5 785" stroke="#7a7a7a" stroke-width="1.8" fill="none"/>
<path d="M24.52 772.60L23.06 770.80L20.15 770.80L18.70 773.20L18.70 779.20L20.15 781.60L23.06 781.60L24.52 779.80M26.46 781.60L26.46 770.80L30.82 770.80L32.28 772.24L32.28 774.40L30.82 775.96L26.46 775.96M40.04 772.48L38.58 770.80L35.67 770.80L34.22 772.48L34.22 774.40L35.67 775.84L38.58 776.08L40.04 777.64L40.04 779.92L38.58 781.60L35.67 781.60L34.22 779.92M47.80 772.60L46.34 770.80L43.43 770.80L41.98 773.20L41.98 779.20L43.43 781.60L46.34 781.60L47.80 779.80M63.31 772.60L61.86 770.80L58.95 770.80L57.49 773.20L57.49 779.20L58.95 781.60L61.86 781.60L63.31 779.80M66.71 774.40L69.62 774.40L71.07 776.20L71.07 779.80L69.62 781.60L66.71 781.60L65.25 779.80L65.25 776.20L66.71 774.40M78.83 770.80L78.83 781.60M78.83 776.20L77.38 774.40L74.47 774.40L73.01 776.20L73.01 779.80L74.47 781.60L77.38 781.60L78.83 779.80M80.77 778.00L86.59 778.00L86.59 776.20L85.14 774.40L82.23 774.40L80.77 776.20L80.77 779.80L82.23 781.60L85.14 781.60L86.59 780.40M89.02 781.60L89.02 780.52M89.02 775.60L89.02 774.52" stroke="#858585" stroke-width="1.0" fill="none" stroke-linecap="round" stroke-linejoin="round"/>
<text x="27.40" y="823.70" font-family="Liberation Sans" font-size="27.10" fill="#000" textLength="99.00" lengthAdjust="spacingAndGlyphs" font-weight="normal" xml:space="preserve">00.06.51</text>
<path d="M144.80 781.30L144.80 770.60L149.58 770.60L151.18 772.03L151.18 774.17L149.58 775.71L144.80 775.71M153.31 774.17L153.31 781.30M153.31 776.54L155.22 774.17L157.35 774.17L158.20 774.76M161.92 774.17L165.11 774.17L166.70 775.95L166.70 779.52L165.11 781.30L161.92 781.30L160.32 779.52L160.32 775.95L161.92 774.17M175.21 774.17L175.21 783.08L173.62 784.87L170.43 784.87L169.36 784.27M175.21 775.95L173.62 774.17L170.43 774.17L168.83 775.95L168.83 779.52L170.43 781.30L173.62 781.30L175.21 779.52M177.87 781.30L177.87 780.23M177.87 775.36L177.87 774.29" stroke="#858585" stroke-width="1.0" fill="none" stroke-linecap="round" stroke-linejoin="round"/>
<path d="M144.80 818.50L144.80 807.00L149.76 807.00L151.42 808.53L151.42 810.83L149.76 812.49L144.80 812.49M149.76 812.49L151.42 814.28L151.42 816.84L149.76 818.50L144.80 818.50M153.63 810.83L153.63 816.58L155.28 818.50L158.59 818.50L160.25 816.58M160.25 810.83L160.25 818.50M163.00 818.50L163.00 810.83M163.00 808.02L163.00 807.00M166.31 807.00L166.31 818.50M175.69 807.00L175.69 818.50M175.69 812.75L174.04 810.83L170.73 810.83L169.07 812.75L169.07 816.58L170.73 818.50L174.04 818.50L175.69 816.58M178.45 818.50L178.45 817.35M178.45 812.11L178.45 810.96" stroke="#858585" stroke-width="1.0" fill="none" stroke-linecap="round" stroke-linejoin="round"/>
<text x="203.50" y="795.20" font-family="Liberation Sans" font-size="20.87" fill="#000" textLength="76.10" lengthAdjust="spacingAndGlyphs" font-weight="normal" xml:space="preserve">Vantage</text>
<text x="202.00" y="827.60" font-family="Liberation Sans" font-size="21.45" fill="#000" textLength="77.80" lengthAdjust="spacingAndGlyphs" font-weight="normal" xml:space="preserve">2011MY</text>
<path d="M313.80 770.60L320.02 770.60M316.91 770.60L316.91 781.30M322.61 781.30L322.61 770.60M325.20 770.60L331.42 770.60M328.31 770.60L328.31 781.30M333.49 770.60L333.49 781.30L339.71 781.30M348.00 770.60L341.78 770.60L341.78 781.30L348.00 781.30M341.78 775.71L345.93 775.71" stroke="#858585" stroke-width="1.0" fill="none" stroke-linecap="round" stroke-linejoin="round"/>
<path d="M320.12 808.79L318.54 807.00L315.38 807.00L313.80 808.79L313.80 810.83L315.38 812.37L318.54 812.62L320.12 814.28L320.12 816.71L318.54 818.50L315.38 818.50L313.80 816.71M322.23 807.00L322.23 816.58L323.81 818.50L326.98 818.50L328.56 816.58L328.56 807.00M330.67 818.50L330.67 807.00L335.41 807.00L336.99 808.53L336.99 810.83L335.41 812.49L330.67 812.49M335.41 812.49L336.99 814.28L336.99 816.84L335.41 818.50L330.67 818.50M339.10 812.75L345.42 812.75M353.86 808.79L352.27 807.00L349.11 807.00L347.53 808.79L347.53 810.83L349.11 812.37L352.27 812.62L353.86 814.28L353.86 816.71L352.27 818.50L349.11 818.50L347.53 816.71M355.96 807.00L359.13 812.75L362.29 807.00M359.13 812.75L359.13 818.50M370.72 808.79L369.14 807.00L365.98 807.00L364.40 808.79L364.40 810.83L365.98 812.37L369.14 812.62L370.72 814.28L370.72 816.71L369.14 818.50L365.98 818.50L364.40 816.71M372.83 807.00L379.15 807.00M375.99 807.00L375.99 818.50M387.59 807.00L381.26 807.00L381.26 818.50L387.59 818.50M381.26 812.49L385.48 812.49M389.70 818.50L389.70 807.00L393.38 814.67L397.07 807.00L397.07 818.50M407.61 807.00L413.94 807.00M410.78 807.00L410.78 818.50M416.57 818.50L416.57 807.00M419.21 807.00L425.53 807.00M422.37 807.00L422.37 818.50M427.64 807.00L427.64 818.50L433.97 818.50M442.40 807.00L436.08 807.00L436.08 818.50L442.40 818.50M436.08 812.49L440.29 812.49" stroke="#858585" stroke-width="1.0" fill="none" stroke-linecap="round" stroke-linejoin="round"/>
<text x="766.00" y="796.10" font-family="Liberation Sans" font-size="36.96" fill="#000" textLength="295.20" lengthAdjust="spacingAndGlyphs" font-weight="normal" xml:space="preserve">Power Distribution</text>
<text x="716.00" y="828.00" font-family="Liberation Sans" font-size="26.38" fill="#000" textLength="396.40" lengthAdjust="spacingAndGlyphs" font-weight="normal" xml:space="preserve">Battery, Fuseboxes and Alternator</text>
</svg>
</body></html>
